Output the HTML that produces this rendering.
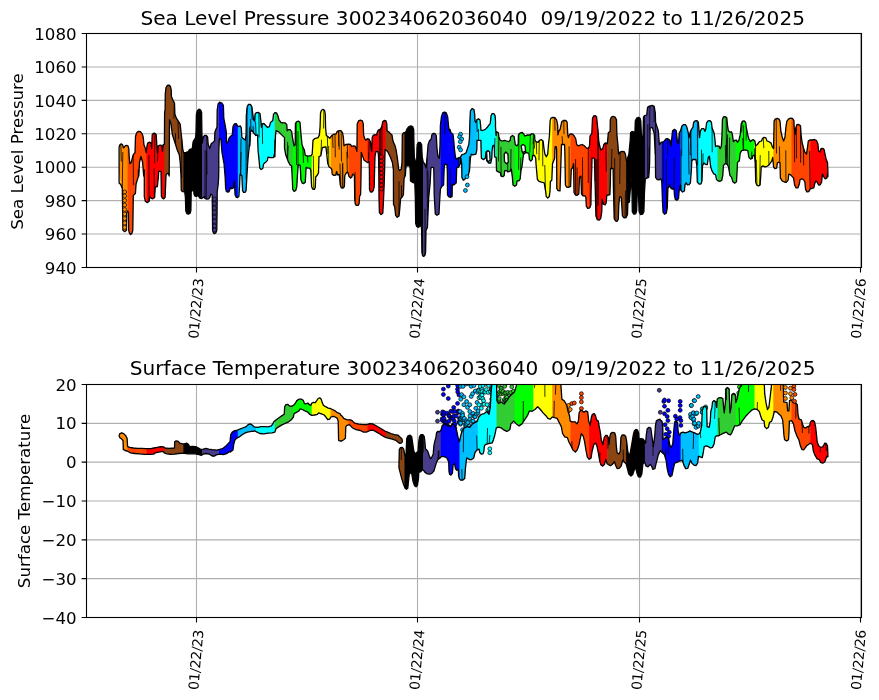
<!DOCTYPE html>
<html lang="en"><head><meta charset="utf-8"><title>Sea Level Pressure and Surface Temperature 300234062036040</title>
<style>html,body{margin:0;padding:0;background:#fff;}svg{display:block;}text{font-family:"DejaVu Sans", "Liberation Sans", sans-serif;fill:#000;white-space:pre;}</style>
</head><body>
<svg width="879" height="700" viewBox="0 0 879 700">
<rect width="879" height="700" fill="#fff"/>
<clipPath id="c1"><rect x="86.5" y="33.5" width="775.0" height="234.0"/></clipPath>
<path d="M196.5 33.5V267.5M417.5 33.5V267.5M639.5 33.5V267.5M860.5 33.5V267.5M86.5 66.92857142857143H861.5M86.5 100.35714285714286H861.5M86.5 133.78571428571428H861.5M86.5 167.21428571428572H861.5M86.5 200.64285714285717H861.5M86.5 234.07142857142858H861.5" stroke="#b0b0b0" stroke-width="1.1" fill="none"/>
<g clip-path="url(#c1)"><g stroke="#000" stroke-width="0.7"><circle cx="460.6" cy="134.2" r="1.95" fill="#00bfff"/><circle cx="459.5" cy="136.9" r="1.95" fill="#00bfff"/><circle cx="461.7" cy="139.0" r="1.95" fill="#00bfff"/><circle cx="460.3" cy="141.7" r="1.95" fill="#00bfff"/><circle cx="459.2" cy="147.2" r="1.95" fill="#00bfff"/><circle cx="460.6" cy="149.9" r="1.95" fill="#00bfff"/></g><polygon points="119.1,176.0 119.9,144.7 121.2,143.9 122.6,144.7 123.4,147.9 124.3,147.2 125.4,145.6 126.7,145.3 128.1,146.1 128.1,212.0 127.6,211.1 126.7,212.5 126.5,230.3 124.7,231.7 122.9,230.3 122.6,211.1 122.3,188.5 120.7,184.4 119.1,170.0" fill="#ff8c00"/>
<polygon points="127.6,145.8 128.1,146.1 128.8,148.6 129.2,156.8 129.9,163.7 131.3,162.3 132.6,156.8 133.6,154.1 135.0,152.7 135.5,136.2 136.7,132.8 138.5,131.3 140.4,131.6 142.2,133.8 143.3,137.6 143.9,144.5 145.4,148.6 146.2,152.7 146.8,147.5 146.8,202.3 145.4,201.3 144.3,196.7 144.3,170.0 143.7,176.0 142.6,162.3 140.9,156.5 139.5,162.3 138.8,176.0 138.5,170.0 138.3,176.9 137.4,179.6 136.1,183.7 135.4,193.6 133.3,195.4 132.8,230.3 131.9,233.4 130.6,234.5 129.5,233.4 128.7,230.3 128.4,212.5 127.6,211.1 127.6,211.1" fill="#ff4500"/>
<polygon points="146.3,151.7 147.0,145.8 147.7,143.1 149.5,142.1 151.1,143.1 151.7,148.6 152.2,134.9 153.2,133.5 154.8,133.2 156.2,134.6 156.8,144.5 157.5,152.7 158.3,145.8 160.1,145.0 161.8,145.6 162.5,151.3 163.2,144.7 164.4,144.2 164.6,112.9 165.0,110.3 165.0,197.6 163.8,198.8 162.4,198.1 161.4,196.1 161.0,171.4 158.7,171.4 158.3,178.2 157.3,186.7 155.3,187.1 154.6,197.4 152.8,198.8 151.1,198.1 149.8,196.7 149.1,201.3 147.3,202.6 146.3,201.9" fill="#ff0000"/>
<polygon points="164.5,131.6 164.6,112.9 165.1,109.5 165.3,93.7 166.0,87.5 167.3,85.5 169.0,85.1 170.3,86.2 171.2,89.6 171.4,96.5 173.1,100.6 174.5,103.0 174.9,114.3 176.5,118.4 180.2,124.2 181.3,134.9 181.9,140.3 182.7,148.6 183.5,152.7 183.8,152.6 183.8,191.8 182.7,191.7 181.3,190.6 181.0,178.2 181.0,176.0 180.2,162.3 179.3,154.7 177.2,149.9 174.2,140.3 172.4,134.9 171.0,123.9 169.5,119.8 169.2,176.0 168.4,173.4 166.8,173.8 166.0,175.5 165.1,197.4 164.5,198.1" fill="#8b4513"/>
<polygon points="183.3,151.5 183.5,152.7 186.1,152.3 188.4,151.6 189.3,149.7 192.3,148.6 193.1,141.7 193.9,140.3 195.6,137.6 196.0,132.1 196.4,114.3 197.2,110.9 198.9,109.2 200.5,109.9 201.6,112.2 201.9,132.1 202.2,143.1 202.6,140.9 202.6,197.9 201.6,198.5 199.8,198.1 198.9,196.7 197.8,195.4 196.7,196.3 195.3,196.3 194.1,194.7 193.7,190.6 192.3,190.6 191.2,191.9 190.9,210.5 190.1,213.2 188.4,214.2 186.8,213.6 185.8,211.1 185.4,197.4 184.7,191.9 183.3,191.7" fill="#000000"/>
<polygon points="202.1,139.0 202.2,143.1 203.3,136.9 204.6,135.3 206.3,135.3 207.6,136.9 208.2,144.5 209.8,148.6 211.2,143.8 212.9,142.4 214.5,141.0 214.9,132.1 215.9,129.4 217.0,127.3 217.2,110.2 218.1,104.0 219.5,102.4 219.5,139.0 219.3,139.0 218.8,152.2 218.8,170.0 218.6,178.2 218.1,185.1 217.2,191.9 217.1,211.1 216.8,230.3 215.9,232.8 214.6,233.6 213.5,233.1 212.6,230.3 212.4,211.1 212.2,195.4 210.8,194.0 209.8,197.4 208.7,198.8 206.7,199.2 205.0,198.5 204.4,196.7 203.3,197.4 202.1,198.2" fill="#483d8b"/>
<polygon points="219.0,103.0 219.7,102.2 221.8,103.0 223.4,105.4 223.8,118.4 225.2,125.3 226.3,132.1 226.6,143.1 227.9,142.4 229.0,138.3 230.0,136.9 230.7,136.2 232.3,134.9 233.0,126.6 234.4,123.9 236.2,123.6 237.6,125.9 238.3,126.5 238.3,196.9 237.6,197.6 236.2,197.3 235.1,194.9 234.4,181.1 233.4,188.0 231.7,188.7 230.4,187.3 230.0,189.2 229.0,191.7 227.7,192.2 226.3,191.3 225.6,187.8 225.2,178.0 224.1,164.2 222.0,152.6 220.9,139.0 219.3,139.0 219.0,145.8" fill="#0000ff"/>
<polygon points="237.8,126.1 238.5,126.6 240.3,125.9 241.3,128.0 241.9,137.6 244.0,139.0 245.4,140.3 246.1,134.9 246.3,115.7 247.2,106.7 248.5,104.4 250.4,104.4 251.8,106.7 252.6,112.9 253.6,119.8 254.6,121.1 255.0,114.3 256.3,112.6 256.5,112.6 256.5,135.3 255.9,135.5 253.6,132.8 251.8,130.1 250.4,132.1 249.9,145.8 249.9,140.0 249.1,148.2 248.1,157.8 247.4,167.4 246.7,179.8 246.1,190.7 245.0,192.4 243.6,192.4 242.6,190.7 241.9,175.7 240.0,174.3 239.6,185.3 238.9,196.2 237.8,197.4" fill="#00bfff"/>
<polygon points="256.0,113.1 256.3,112.6 258.4,112.4 260.0,113.6 260.9,121.1 261.4,127.3 262.2,123.9 263.9,123.5 265.5,125.3 267.3,127.3 269.4,126.6 270.5,122.5 272.8,120.5 273.5,114.3 274.9,112.6 275.2,112.7 275.2,144.3 274.9,156.8 274.9,140.0 274.6,153.7 273.5,157.6 270.1,157.6 268.0,157.1 267.3,160.6 265.3,162.6 263.6,164.0 262.8,168.5 261.1,169.5 259.8,168.1 259.1,160.6 258.1,151.0 257.7,140.0 257.7,134.9 256.0,135.5" fill="#00ffff"/>
<polygon points="274.7,112.8 274.9,112.6 276.5,112.9 277.9,115.7 279.0,119.8 281.0,122.5 283.1,122.8 285.1,122.8 286.8,124.6 287.2,130.7 288.6,129.6 290.2,129.6 291.6,131.4 292.7,139.0 293.4,142.6 293.4,190.5 292.7,189.4 292.4,181.1 291.6,166.1 289.9,164.7 287.9,160.6 285.8,155.1 284.5,148.2 284.5,140.0 284.5,137.6 281.7,134.9 279.0,132.1 276.2,130.7 275.5,134.9 274.9,156.8 274.9,140.0 274.7,145.5" fill="#32cd32"/>
<polygon points="292.9,140.1 294.1,145.8 295.2,144.5 295.4,123.9 296.5,121.8 298.4,121.1 300.0,122.2 300.9,133.5 302.0,144.5 303.0,147.2 304.3,149.9 305.3,155.4 307.8,156.1 311.2,155.7 312.2,154.1 312.2,153.4 312.2,188.1 311.6,186.6 310.8,170.2 309.8,168.1 307.8,168.1 306.1,167.4 305.3,182.2 303.7,183.6 302.0,182.8 300.9,179.8 300.2,165.4 298.2,164.7 297.5,174.3 296.8,186.6 295.7,190.5 294.1,191.4 292.9,189.7" fill="#00ff00"/>
<polygon points="311.7,154.8 312.2,154.1 313.0,140.3 314.6,138.7 318.1,137.6 319.4,134.9 320.1,126.6 320.5,112.9 321.5,110.2 323.1,109.3 324.6,110.4 325.3,114.3 325.6,128.0 326.3,135.5 328.3,136.9 329.7,138.3 331.0,136.6 331.0,168.3 330.8,168.1 329.0,166.7 327.7,163.3 326.7,153.7 325.9,146.9 322.6,147.5 322.2,148.2 320.8,155.8 319.0,156.5 318.5,172.9 317.4,175.0 315.7,177.0 315.3,187.3 314.4,189.4 312.6,189.1 311.7,186.9" fill="#ffff00"/>
<polygon points="330.5,137.3 331.8,135.5 333.8,134.2 335.9,134.2 337.3,131.4 339.3,130.5 340.0,130.7 341.0,130.7 342.6,132.8 343.4,137.6 344.0,145.8 345.8,144.5 348.5,144.2 349.1,144.3 349.1,176.4 348.9,176.2 347.8,172.1 346.5,172.7 344.8,175.5 344.4,186.5 343.0,188.2 341.2,187.8 340.3,185.1 339.3,174.3 337.7,175.0 336.6,171.5 335.9,175.0 333.8,175.4 332.2,174.3 331.8,169.5 330.8,168.1 330.5,167.9" fill="#ff8c00"/>
<polygon points="348.6,144.2 350.6,144.5 351.7,146.5 353.3,145.8 355.0,146.1 356.1,148.6 356.9,151.3 357.2,123.9 358.5,120.9 360.4,120.2 362.4,120.9 363.3,123.9 363.6,134.9 364.6,138.3 365.9,140.3 367.3,138.7 367.9,138.9 367.9,162.4 367.4,162.6 363.9,159.9 361.3,152.4 361.1,170.0 361.0,178.2 360.6,194.7 359.6,196.1 359.1,203.6 358.1,205.4 356.3,205.4 355.2,203.6 354.7,197.4 354.4,175.5 352.6,174.1 351.9,176.9 350.6,178.0 348.9,176.2 348.6,175.1" fill="#ff4500"/>
<polygon points="367.4,138.7 369.1,139.2 370.5,141.7 371.1,148.6 371.8,151.3 372.2,137.6 373.2,135.3 375.0,134.6 376.6,134.9 377.3,132.1 378.3,130.1 380.5,129.1 381.8,126.6 382.7,121.8 384.2,120.5 386.0,120.9 386.1,121.4 386.1,150.2 385.1,149.4 384.6,170.0 384.2,183.7 383.5,200.2 382.8,213.2 381.0,214.6 379.4,212.5 379.0,197.4 378.8,170.0 378.5,156.3 378.0,151.6 375.9,151.6 375.0,156.3 374.6,170.0 374.2,186.5 373.3,190.6 371.7,192.2 370.3,191.9 369.5,189.2 369.4,170.0 369.1,161.8 367.4,162.6 367.4,162.6" fill="#ff0000"/>
<polygon points="385.6,120.8 386.0,120.9 386.8,123.9 387.1,130.7 388.7,131.8 390.3,133.5 392.0,134.9 392.8,140.3 393.8,143.1 395.1,145.8 396.1,149.9 397.2,156.8 397.9,162.3 398.6,169.1 399.7,170.5 401.3,169.1 402.0,162.3 402.3,134.9 403.4,132.8 404.9,132.6 404.9,176.6 404.1,178.2 403.4,194.7 402.0,197.4 400.6,198.8 399.7,209.8 399.0,215.9 397.2,217.3 395.6,215.3 394.7,207.0 393.5,204.3 393.4,170.0 392.4,162.5 390.3,157.0 387.6,151.5 385.6,149.8" fill="#8b4513"/>
<polygon points="404.4,132.6 405.2,132.5 406.1,131.4 407.1,128.7 408.9,126.6 410.9,125.9 412.7,126.6 413.7,129.4 413.9,141.7 414.3,156.8 415.7,162.3 416.7,160.9 417.2,144.5 418.5,142.4 420.2,142.4 421.6,144.5 422.2,156.8 423.3,162.3 423.7,162.7 423.7,256.4 422.6,255.7 421.9,252.3 421.6,229.0 420.5,222.1 419.8,226.2 418.5,227.3 416.7,226.5 415.7,223.5 415.3,197.4 414.8,183.0 412.3,182.3 410.5,181.0 410.2,170.0 409.8,165.9 406.1,165.9 405.7,170.0 405.4,175.5 404.4,177.6" fill="#000000"/>
<polygon points="423.2,161.8 423.3,162.3 424.6,163.7 426.0,167.8 427.1,156.8 428.1,144.5 429.4,141.0 431.2,139.0 431.8,134.9 433.1,133.5 434.9,133.5 436.3,135.5 437.0,148.6 438.1,156.8 439.4,158.2 440.0,145.8 440.4,125.3 441.2,118.2 441.2,187.6 440.4,189.2 439.7,200.2 439.0,213.9 437.0,215.3 435.3,213.9 434.2,194.7 433.8,170.0 433.5,167.3 431.2,167.3 430.8,170.0 430.1,183.7 428.7,197.4 428.1,211.1 427.4,227.6 426.0,230.3 425.6,252.3 424.9,255.3 423.7,256.4 423.2,256.1" fill="#483d8b"/>
<polygon points="440.7,122.5 441.4,117.0 442.7,112.9 444.5,112.0 446.3,112.9 447.7,117.0 448.6,126.6 449.3,130.7 450.0,129.4 451.0,132.8 453.0,134.2 453.7,140.3 454.4,148.6 455.4,156.8 456.5,159.5 457.8,158.2 459.2,157.5 460.0,158.5 460.0,164.3 458.5,167.1 456.7,167.8 456.2,182.9 453.7,185.0 452.3,184.3 452.1,196.6 450.3,197.3 450.0,197.0 448.6,196.7 447.5,194.7 447.3,170.0 447.0,164.5 444.4,164.5 444.1,170.0 443.6,185.1 441.8,186.5 440.7,188.6" fill="#0000ff"/>
<polygon points="459.5,157.9 460.3,158.9 460.6,156.8 461.9,154.7 464.0,154.1 466.1,152.7 467.4,148.6 468.8,144.5 469.5,137.6 469.9,121.1 470.4,110.9 472.2,108.5 474.0,109.5 474.7,114.3 475.0,121.1 475.9,122.5 476.8,119.8 478.2,118.8 478.2,140.4 477.0,140.4 476.8,150.0 475.9,154.1 472.9,154.8 471.3,154.1 470.4,158.2 469.5,170.6 468.1,176.1 466.1,177.4 464.7,179.5 463.3,180.2 461.9,177.4 461.7,163.7 460.8,158.2 460.3,163.7 459.5,165.2" fill="#00bfff"/>
<polygon points="477.7,119.2 478.4,118.7 480.0,120.0 480.6,125.3 480.9,130.1 482.5,130.5 485.3,129.4 487.3,127.3 488.7,125.3 490.1,123.9 490.7,119.8 491.0,115.7 492.1,113.6 493.8,113.6 495.1,115.7 495.5,121.1 495.5,126.6 495.7,129.4 495.8,131.4 496.0,134.9 496.1,135.5 496.2,132.8 496.9,131.8 497.0,131.9 497.0,170.9 496.5,170.6 496.2,157.5 494.6,156.9 494.2,145.2 492.8,145.9 492.1,150.0 491.8,158.2 490.7,163.0 488.7,163.0 487.0,161.0 486.6,151.4 485.9,152.7 485.3,158.2 483.6,159.6 481.4,158.2 481.1,150.0 480.9,140.4 477.7,140.4" fill="#00ffff"/>
<polygon points="496.5,132.5 496.9,131.8 498.3,132.8 499.0,137.6 500.3,140.3 502.4,141.0 504.5,140.3 506.5,141.0 508.6,141.7 510.2,140.3 510.6,136.9 512.4,135.5 514.1,136.5 514.7,140.3 515.1,144.1 515.1,186.1 514.7,186.3 513.0,185.0 512.4,177.4 511.3,169.2 509.9,171.3 507.9,171.9 506.5,170.6 504.7,170.6 504.2,175.4 502.8,176.7 501.0,176.1 500.3,172.6 498.3,171.9 496.5,170.6 496.5,168.1" fill="#32cd32"/>
<polygon points="514.6,139.7 514.7,140.3 515.2,144.5 516.8,145.8 518.2,144.5 518.4,134.9 520.2,132.8 522.3,132.5 523.9,134.2 524.8,136.2 527.8,134.9 529.8,135.1 531.6,133.8 533.3,133.8 533.9,134.6 533.9,155.5 532.6,155.5 532.2,159.6 530.8,161.0 529.4,159.6 528.9,153.4 526.4,152.7 525.7,152.1 523.9,151.4 523.0,158.2 522.0,166.5 520.9,170.6 520.2,178.8 518.9,180.9 517.1,180.9 516.5,185.0 514.7,186.3 514.6,186.3" fill="#00ff00"/>
<polygon points="533.4,133.9 534.6,135.5 534.9,140.3 536.0,141.7 538.1,142.4 539.4,140.3 541.5,139.7 543.1,141.0 544.0,148.6 544.9,154.1 546.3,156.8 547.7,154.1 548.6,143.1 549.4,136.2 550.1,121.1 550.8,118.4 552.7,117.3 552.7,163.2 552.5,163.7 551.8,180.2 550.4,181.5 550.0,191.1 549.3,196.6 547.7,198.0 546.3,196.6 545.6,191.1 544.2,182.9 541.5,182.2 539.0,181.3 537.4,179.5 536.0,163.7 535.7,158.2 534.6,155.5 533.4,155.5" fill="#ffff00"/>
<polygon points="552.2,117.6 552.7,117.3 554.9,117.7 556.6,119.8 557.7,125.3 557.9,134.9 559.0,130.7 560.0,129.6 561.7,121.8 563.4,120.5 565.8,120.5 567.1,122.2 567.8,134.9 568.5,137.6 569.2,134.9 570.6,133.8 570.9,133.8 570.9,179.3 570.6,186.3 568.5,187.3 566.5,187.0 565.4,185.0 564.8,150.0 564.5,144.5 561.5,144.5 560.0,190.9 557.9,190.5 556.8,188.4 556.6,150.0 556.3,146.6 555.2,146.6 554.9,150.0 554.7,158.2 553.6,161.0 552.5,163.7 552.2,170.4" fill="#ff8c00"/>
<polygon points="570.4,133.9 570.6,133.8 572.6,134.2 574.4,136.2 575.8,139.0 576.7,144.5 578.1,145.8 580.2,145.1 582.2,144.5 584.3,145.8 586.3,147.9 588.4,148.6 589.5,145.8 589.6,143.5 589.6,207.9 587.7,208.3 586.3,206.2 585.9,197.3 585.0,195.9 582.9,195.9 581.5,193.9 580.9,176.1 579.5,177.4 578.8,193.9 577.2,195.3 575.4,195.0 574.0,192.5 573.6,163.7 572.6,167.8 571.3,169.2 570.6,186.3 570.4,186.4" fill="#ff4500"/>
<polygon points="589.1,146.7 589.5,145.8 590.0,136.2 591.8,133.5 592.5,118.4 593.6,115.9 595.3,115.7 596.6,117.0 597.3,123.9 598.0,130.7 598.7,140.3 599.4,144.5 600.7,149.9 602.8,148.6 603.8,144.5 605.5,142.8 607.3,143.8 607.8,138.4 607.8,195.1 606.8,195.3 606.2,202.8 605.1,204.9 603.5,204.2 602.1,199.4 601.8,211.7 600.7,218.6 599.1,220.2 597.3,219.7 595.9,215.8 595.3,191.1 594.7,167.8 594.4,158.2 592.0,158.2 591.8,167.8 591.1,191.1 590.9,204.9 589.8,207.9 589.1,208.0" fill="#ff0000"/>
<polygon points="607.3,143.8 607.3,143.8 607.9,137.6 608.3,132.8 610.1,131.4 610.3,119.8 611.4,117.0 613.1,116.3 615.1,117.0 616.5,119.8 616.9,134.9 617.9,144.5 618.6,154.1 619.9,152.0 622.0,151.3 624.1,151.6 625.4,154.1 626.5,160.9 626.6,160.8 626.6,216.4 626.1,217.5 624.1,217.9 622.4,215.8 621.3,197.3 619.7,196.6 618.8,204.9 618.3,219.3 617.2,221.3 615.6,221.0 614.2,218.6 613.5,191.1 613.1,168.5 610.6,168.5 610.3,184.3 609.9,194.6 608.3,195.0 607.3,195.2" fill="#8b4513"/>
<polygon points="626.1,158.1 626.5,160.9 627.5,158.2 628.9,154.1 630.2,140.3 630.6,132.8 632.0,131.4 633.7,131.8 634.8,134.9 635.3,121.1 636.7,118.1 638.5,117.3 640.1,118.4 640.8,121.1 641.6,140.3 643.0,134.9 643.5,117.0 644.6,115.7 645.4,115.4 645.4,178.8 645.3,178.8 644.4,193.9 643.9,211.7 642.6,214.2 640.5,214.5 639.1,211.7 638.5,195.3 637.2,193.9 636.7,210.3 635.7,213.8 633.7,214.2 632.3,211.7 632.0,191.1 630.9,176.1 630.2,191.1 629.3,202.1 627.9,202.8 627.5,214.5 626.1,217.5 626.1,217.5" fill="#000000"/>
<polygon points="644.9,115.6 646.7,115.0 647.6,107.4 649.4,106.1 652.2,105.4 654.2,106.3 655.3,112.9 655.6,122.5 657.0,126.6 658.3,130.7 659.4,144.5 661.1,142.4 662.3,142.1 662.3,198.0 661.8,181.5 660.8,178.8 659.0,179.9 657.0,179.5 655.6,177.4 655.3,150.0 655.1,150.0 654.2,133.5 652.2,127.4 650.1,128.1 649.8,150.0 649.6,163.7 648.7,177.4 646.7,178.1 645.3,178.8 644.9,186.0" fill="#483d8b"/>
<polygon points="661.8,142.2 663.8,141.7 665.9,139.0 667.9,138.7 670.0,140.3 671.0,145.8 672.1,134.9 672.6,130.7 674.4,129.4 676.2,130.5 676.7,134.9 677.6,143.1 678.5,143.8 679.2,132.8 680.6,130.7 681.1,128.9 681.1,190.6 680.8,190.3 680.6,184.9 679.2,190.3 678.5,198.6 677.1,200.2 675.4,199.7 674.5,195.8 674.0,188.3 672.3,189.2 670.3,187.6 670.0,185.0 669.3,185.7 667.9,188.4 667.3,207.6 666.3,213.1 664.5,214.2 663.1,212.4 662.5,202.1 661.8,183.0" fill="#0000ff"/>
<polygon points="680.6,130.6 681.9,125.9 683.6,124.6 685.4,124.6 686.7,126.6 687.4,129.4 688.1,132.1 689.1,137.6 690.2,132.1 691.5,129.4 692.9,127.3 693.6,122.5 695.0,120.9 697.0,120.6 698.4,122.2 698.9,129.4 699.3,134.2 699.3,184.1 699.1,184.2 697.3,182.1 696.8,165.7 695.9,159.5 692.9,159.5 691.8,160.9 691.3,171.1 690.4,182.8 689.1,184.6 687.4,184.9 686.1,182.8 685.0,184.9 684.4,191.0 682.6,192.0 680.8,190.3 680.6,185.4" fill="#00bfff"/>
<polygon points="698.8,127.1 698.9,129.4 699.5,137.6 700.5,130.7 701.8,128.7 703.9,128.7 705.0,131.4 705.9,128.7 706.6,122.8 708.0,120.9 710.1,120.7 711.4,122.2 712.1,128.0 713.2,130.7 714.2,133.5 714.9,139.0 715.5,146.5 716.9,145.8 718.0,146.0 718.0,180.9 717.6,180.7 716.5,179.4 715.5,174.6 713.8,173.9 712.1,171.1 710.7,167.0 709.4,156.1 708.3,157.4 707.3,164.6 705.3,164.3 703.9,162.9 702.5,165.7 702.0,180.7 701.1,183.8 699.1,184.2 698.8,183.8" fill="#00ffff"/>
<polygon points="717.5,145.9 719.0,146.1 720.3,148.6 721.4,145.8 722.0,134.9 722.4,119.8 723.4,117.0 725.1,116.6 726.8,117.7 727.5,125.3 728.3,130.7 729.9,132.1 731.6,131.8 732.4,134.9 733.4,141.7 734.7,140.3 736.2,140.1 736.2,182.1 734.7,183.2 732.7,181.4 731.6,177.3 729.9,175.3 728.6,167.0 727.2,164.3 725.1,163.6 723.4,165.7 722.8,175.3 721.7,180.5 719.7,181.4 717.6,180.7 717.5,180.7" fill="#32cd32"/>
<polygon points="735.7,140.2 736.5,140.1 737.5,142.4 738.9,140.3 740.2,134.9 741.2,123.9 742.6,121.1 744.3,120.9 745.7,122.5 746.4,128.0 747.8,134.9 748.9,139.0 750.5,141.7 751.6,140.3 753.3,139.7 754.9,141.0 755.0,141.6 755.0,159.4 754.6,155.4 753.0,155.4 752.2,158.5 750.5,159.1 748.9,157.4 747.8,150.6 745.0,149.9 741.6,150.6 740.2,153.3 739.3,160.9 737.5,162.2 737.1,171.1 736.5,181.8 735.7,182.5" fill="#00ff00"/>
<polygon points="754.5,140.7 754.9,141.0 755.7,145.8 757.4,144.5 759.4,141.7 761.5,141.0 762.6,138.3 764.2,137.3 765.9,137.9 767.0,141.0 769.0,141.7 771.1,143.1 772.5,147.2 773.6,148.6 773.8,137.4 773.8,167.3 773.6,167.0 772.7,157.4 771.8,160.9 770.4,162.9 769.0,165.0 767.0,166.3 764.9,166.8 762.9,165.9 761.2,167.0 760.8,175.3 760.1,184.9 758.5,186.0 756.7,184.9 755.7,182.1 755.3,162.9 754.6,155.4 754.5,155.4" fill="#ffff00"/>
<polygon points="773.3,148.2 773.6,148.6 774.1,121.1 775.2,119.1 777.3,118.4 779.0,119.1 780.0,121.1 780.9,131.5 782.2,137.0 783.6,141.1 785.0,137.0 785.9,127.4 786.8,121.3 788.4,119.2 790.5,118.2 792.0,118.4 792.0,176.3 791.8,176.1 790.5,174.7 788.8,174.1 788.1,180.2 786.3,182.3 784.3,182.0 782.2,180.9 780.4,178.2 780.0,162.9 778.6,162.2 777.4,162.9 776.6,168.1 774.9,168.7 773.6,167.0 773.3,163.8" fill="#ff8c00"/>
<polygon points="791.5,118.4 792.5,118.5 793.9,120.6 794.2,127.4 795.3,134.3 795.9,127.4 796.9,124.7 798.7,124.4 800.5,125.8 801.0,134.3 802.1,142.5 803.5,148.0 804.9,152.1 806.5,154.2 807.6,146.6 808.3,141.1 810.3,139.8 810.7,139.8 810.7,188.9 810.1,189.1 808.7,191.6 806.9,191.9 805.5,189.1 804.9,182.3 803.5,179.5 801.8,178.9 800.1,179.5 799.4,183.7 798.0,187.8 795.9,187.8 794.6,185.0 793.6,178.2 791.8,176.1 791.5,175.7" fill="#ff4500"/>
<polygon points="810.2,139.8 810.3,139.8 812.4,140.0 814.5,139.5 816.5,140.5 817.9,143.9 818.6,150.7 819.9,152.1 821.0,148.7 822.7,148.3 824.1,149.4 825.2,154.9 826.1,159.0 827.5,162.4 827.9,171.3 827.9,171.3 827.6,174.1 826.8,178.2 825.2,178.9 823.8,176.8 822.4,174.1 821.6,182.3 820.2,184.8 818.6,185.0 817.2,182.3 815.8,180.9 814.7,183.7 813.8,187.8 811.7,188.5 810.2,189.1" fill="#ff0000"/>
<polygon points="486.4,152.0 488.0,150.6 489.6,152.0 490.1,160.2 488.3,161.6 486.6,160.2" fill="#fff" stroke="#000" stroke-width="1.3" stroke-linejoin="round"/>
<polygon points="504.2,154.1 505.8,152.0 507.9,154.1 508.3,162.3 506.5,163.7 504.5,161.6" fill="#fff" stroke="#000" stroke-width="1.3" stroke-linejoin="round"/>
<polygon points="521.2,145.8 523.0,144.5 525.0,145.8 525.7,152.7 523.7,154.1 522.0,151.3" fill="#fff" stroke="#000" stroke-width="1.3" stroke-linejoin="round"/>
<polygon points="119.1,176.0 119.1,147.2 119.9,144.7 121.2,143.9 122.6,144.7 123.4,147.9 124.3,147.2 125.4,145.6 126.7,145.3 128.1,146.1 128.8,148.6 129.2,156.8 129.9,163.7 131.3,162.3 132.6,156.8 133.6,154.1 135.0,152.7 135.5,136.2 136.7,132.8 138.5,131.3 140.4,131.6 142.2,133.8 143.3,137.6 143.9,144.5 145.4,148.6 146.2,152.7 147.0,145.8 147.7,143.1 149.5,142.1 151.1,143.1 151.7,148.6 152.2,134.9 153.2,133.5 154.8,133.2 156.2,134.6 156.8,144.5 157.5,152.7 158.3,145.8 160.1,145.0 161.8,145.6 162.5,151.3 163.2,144.7 164.4,144.2 164.6,112.9 165.1,109.5 165.3,93.7 166.0,87.5 167.3,85.5 169.0,85.1 170.3,86.2 171.2,89.6 171.4,96.5 173.1,100.6 174.5,103.0 174.9,114.3 176.5,118.4 180.2,124.2 181.3,134.9 181.9,140.3 182.7,148.6 183.5,152.7 186.1,152.3 188.4,151.6 189.3,149.7 192.3,148.6 193.1,141.7 193.9,140.3 195.6,137.6 196.0,132.1 196.4,114.3 197.2,110.9 198.9,109.2 200.5,109.9 201.6,112.2 201.9,132.1 202.2,143.1 203.3,136.9 204.6,135.3 206.3,135.3 207.6,136.9 208.2,144.5 209.8,148.6 211.2,143.8 212.9,142.4 214.5,141.0 214.9,132.1 215.9,129.4 217.0,127.3 217.2,110.2 218.1,104.0 219.7,102.2 221.8,103.0 223.4,105.4 223.8,118.4 225.2,125.3 226.3,132.1 226.6,143.1 227.9,142.4 229.0,138.3 230.0,136.9 230.7,136.2 232.3,134.9 233.0,126.6 234.4,123.9 236.2,123.6 237.6,125.9 238.5,126.6 240.3,125.9 241.3,128.0 241.9,137.6 244.0,139.0 245.4,140.3 246.1,134.9 246.3,115.7 247.2,106.7 248.5,104.4 250.4,104.4 251.8,106.7 252.6,112.9 253.6,119.8 254.6,121.1 255.0,114.3 256.3,112.6 258.4,112.4 260.0,113.6 260.9,121.1 261.4,127.3 262.2,123.9 263.9,123.5 265.5,125.3 267.3,127.3 269.4,126.6 270.5,122.5 272.8,120.5 273.5,114.3 274.9,112.6 276.5,112.9 277.9,115.7 279.0,119.8 281.0,122.5 283.1,122.8 285.1,122.8 286.8,124.6 287.2,130.7 288.6,129.6 290.2,129.6 291.6,131.4 292.7,139.0 294.1,145.8 295.2,144.5 295.4,123.9 296.5,121.8 298.4,121.1 300.0,122.2 300.9,133.5 302.0,144.5 303.0,147.2 304.3,149.9 305.3,155.4 307.8,156.1 311.2,155.7 312.2,154.1 313.0,140.3 314.6,138.7 318.1,137.6 319.4,134.9 320.1,126.6 320.5,112.9 321.5,110.2 323.1,109.3 324.6,110.4 325.3,114.3 325.6,128.0 326.3,135.5 328.3,136.9 329.7,138.3 331.8,135.5 333.8,134.2 335.9,134.2 337.3,131.4 339.3,130.5 340.0,130.7 341.0,130.7 342.6,132.8 343.4,137.6 344.0,145.8 345.8,144.5 348.5,144.2 350.6,144.5 351.7,146.5 353.3,145.8 355.0,146.1 356.1,148.6 356.9,151.3 357.2,123.9 358.5,120.9 360.4,120.2 362.4,120.9 363.3,123.9 363.6,134.9 364.6,138.3 365.9,140.3 367.3,138.7 369.1,139.2 370.5,141.7 371.1,148.6 371.8,151.3 372.2,137.6 373.2,135.3 375.0,134.6 376.6,134.9 377.3,132.1 378.3,130.1 380.5,129.1 381.8,126.6 382.7,121.8 384.2,120.5 386.0,120.9 386.8,123.9 387.1,130.7 388.7,131.8 390.3,133.5 392.0,134.9 392.8,140.3 393.8,143.1 395.1,145.8 396.1,149.9 397.2,156.8 397.9,162.3 398.6,169.1 399.7,170.5 401.3,169.1 402.0,162.3 402.3,134.9 403.4,132.8 405.2,132.5 406.1,131.4 407.1,128.7 408.9,126.6 410.9,125.9 412.7,126.6 413.7,129.4 413.9,141.7 414.3,156.8 415.7,162.3 416.7,160.9 417.2,144.5 418.5,142.4 420.2,142.4 421.6,144.5 422.2,156.8 423.3,162.3 424.6,163.7 426.0,167.8 427.1,156.8 428.1,144.5 429.4,141.0 431.2,139.0 431.8,134.9 433.1,133.5 434.9,133.5 436.3,135.5 437.0,148.6 438.1,156.8 439.4,158.2 440.0,145.8 440.4,125.3 441.4,117.0 442.7,112.9 444.5,112.0 446.3,112.9 447.7,117.0 448.6,126.6 449.3,130.7 450.0,129.4 451.0,132.8 453.0,134.2 453.7,140.3 454.4,148.6 455.4,156.8 456.5,159.5 457.8,158.2 459.2,157.5 460.3,158.9 460.6,156.8 461.9,154.7 464.0,154.1 466.1,152.7 467.4,148.6 468.8,144.5 469.5,137.6 469.9,121.1 470.4,110.9 472.2,108.5 474.0,109.5 474.7,114.3 475.0,121.1 475.9,122.5 476.8,119.8 478.4,118.7 480.0,120.0 480.6,125.3 480.9,130.1 482.5,130.5 485.3,129.4 487.3,127.3 488.7,125.3 490.1,123.9 490.7,119.8 491.0,115.7 492.1,113.6 493.8,113.6 495.1,115.7 495.5,121.1 495.5,126.6 495.7,129.4 495.8,131.4 496.0,134.9 496.1,135.5 496.2,132.8 496.9,131.8 498.3,132.8 499.0,137.6 500.3,140.3 502.4,141.0 504.5,140.3 506.5,141.0 508.6,141.7 510.2,140.3 510.6,136.9 512.4,135.5 514.1,136.5 514.7,140.3 515.2,144.5 516.8,145.8 518.2,144.5 518.4,134.9 520.2,132.8 522.3,132.5 523.9,134.2 524.8,136.2 527.8,134.9 529.8,135.1 531.6,133.8 533.3,133.8 534.6,135.5 534.9,140.3 536.0,141.7 538.1,142.4 539.4,140.3 541.5,139.7 543.1,141.0 544.0,148.6 544.9,154.1 546.3,156.8 547.7,154.1 548.6,143.1 549.4,136.2 550.1,121.1 550.8,118.4 552.7,117.3 554.9,117.7 556.6,119.8 557.7,125.3 557.9,134.9 559.0,130.7 560.0,129.6 561.7,121.8 563.4,120.5 565.8,120.5 567.1,122.2 567.8,134.9 568.5,137.6 569.2,134.9 570.6,133.8 572.6,134.2 574.4,136.2 575.8,139.0 576.7,144.5 578.1,145.8 580.2,145.1 582.2,144.5 584.3,145.8 586.3,147.9 588.4,148.6 589.5,145.8 590.0,136.2 591.8,133.5 592.5,118.4 593.6,115.9 595.3,115.7 596.6,117.0 597.3,123.9 598.0,130.7 598.7,140.3 599.4,144.5 600.7,149.9 602.8,148.6 603.8,144.5 605.5,142.8 607.3,143.8 607.9,137.6 608.3,132.8 610.1,131.4 610.3,119.8 611.4,117.0 613.1,116.3 615.1,117.0 616.5,119.8 616.9,134.9 617.9,144.5 618.6,154.1 619.9,152.0 622.0,151.3 624.1,151.6 625.4,154.1 626.5,160.9 627.5,158.2 628.9,154.1 630.2,140.3 630.6,132.8 632.0,131.4 633.7,131.8 634.8,134.9 635.3,121.1 636.7,118.1 638.5,117.3 640.1,118.4 640.8,121.1 641.6,140.3 643.0,134.9 643.5,117.0 644.6,115.7 646.7,115.0 647.6,107.4 649.4,106.1 652.2,105.4 654.2,106.3 655.3,112.9 655.6,122.5 657.0,126.6 658.3,130.7 659.4,144.5 661.1,142.4 663.8,141.7 665.9,139.0 667.9,138.7 670.0,140.3 671.0,145.8 672.1,134.9 672.6,130.7 674.4,129.4 676.2,130.5 676.7,134.9 677.6,143.1 678.5,143.8 679.2,132.8 680.6,130.7 681.9,125.9 683.6,124.6 685.4,124.6 686.7,126.6 687.4,129.4 688.1,132.1 689.1,137.6 690.2,132.1 691.5,129.4 692.9,127.3 693.6,122.5 695.0,120.9 697.0,120.6 698.4,122.2 698.9,129.4 699.5,137.6 700.5,130.7 701.8,128.7 703.9,128.7 705.0,131.4 705.9,128.7 706.6,122.8 708.0,120.9 710.1,120.7 711.4,122.2 712.1,128.0 713.2,130.7 714.2,133.5 714.9,139.0 715.5,146.5 716.9,145.8 719.0,146.1 720.3,148.6 721.4,145.8 722.0,134.9 722.4,119.8 723.4,117.0 725.1,116.6 726.8,117.7 727.5,125.3 728.3,130.7 729.9,132.1 731.6,131.8 732.4,134.9 733.4,141.7 734.7,140.3 736.5,140.1 737.5,142.4 738.9,140.3 740.2,134.9 741.2,123.9 742.6,121.1 744.3,120.9 745.7,122.5 746.4,128.0 747.8,134.9 748.9,139.0 750.5,141.7 751.6,140.3 753.3,139.7 754.9,141.0 755.7,145.8 757.4,144.5 759.4,141.7 761.5,141.0 762.6,138.3 764.2,137.3 765.9,137.9 767.0,141.0 769.0,141.7 771.1,143.1 772.5,147.2 773.6,148.6 774.1,121.1 775.2,119.1 777.3,118.4 779.0,119.1 780.0,121.1 780.9,131.5 782.2,137.0 783.6,141.1 785.0,137.0 785.9,127.4 786.8,121.3 788.4,119.2 790.5,118.2 792.5,118.5 793.9,120.6 794.2,127.4 795.3,134.3 795.9,127.4 796.9,124.7 798.7,124.4 800.5,125.8 801.0,134.3 802.1,142.5 803.5,148.0 804.9,152.1 806.5,154.2 807.6,146.6 808.3,141.1 810.3,139.8 812.4,140.0 814.5,139.5 816.5,140.5 817.9,143.9 818.6,150.7 819.9,152.1 821.0,148.7 822.7,148.3 824.1,149.4 825.2,154.9 826.1,159.0 827.5,162.4 827.9,171.3 827.9,176.8 827.9,171.3 827.6,174.1 826.8,178.2 825.2,178.9 823.8,176.8 822.4,174.1 821.6,182.3 820.2,184.8 818.6,185.0 817.2,182.3 815.8,180.9 814.7,183.7 813.8,187.8 811.7,188.5 810.1,189.1 808.7,191.6 806.9,191.9 805.5,189.1 804.9,182.3 803.5,179.5 801.8,178.9 800.1,179.5 799.4,183.7 798.0,187.8 795.9,187.8 794.6,185.0 793.6,178.2 791.8,176.1 790.5,174.7 788.8,174.1 788.1,180.2 786.3,182.3 784.3,182.0 782.2,180.9 780.4,178.2 780.0,162.9 778.6,162.2 777.4,162.9 776.6,168.1 774.9,168.7 773.6,167.0 772.7,157.4 771.8,160.9 770.4,162.9 769.0,165.0 767.0,166.3 764.9,166.8 762.9,165.9 761.2,167.0 760.8,175.3 760.1,184.9 758.5,186.0 756.7,184.9 755.7,182.1 755.3,162.9 754.6,155.4 753.0,155.4 752.2,158.5 750.5,159.1 748.9,157.4 747.8,150.6 745.0,149.9 741.6,150.6 740.2,153.3 739.3,160.9 737.5,162.2 737.1,171.1 736.5,181.8 734.7,183.2 732.7,181.4 731.6,177.3 729.9,175.3 728.6,167.0 727.2,164.3 725.1,163.6 723.4,165.7 722.8,175.3 721.7,180.5 719.7,181.4 717.6,180.7 716.5,179.4 715.5,174.6 713.8,173.9 712.1,171.1 710.7,167.0 709.4,156.1 708.3,157.4 707.3,164.6 705.3,164.3 703.9,162.9 702.5,165.7 702.0,180.7 701.1,183.8 699.1,184.2 697.3,182.1 696.8,165.7 695.9,159.5 692.9,159.5 691.8,160.9 691.3,171.1 690.4,182.8 689.1,184.6 687.4,184.9 686.1,182.8 685.0,184.9 684.4,191.0 682.6,192.0 680.8,190.3 680.6,184.9 679.2,190.3 678.5,198.6 677.1,200.2 675.4,199.7 674.5,195.8 674.0,188.3 672.3,189.2 670.3,187.6 670.0,185.0 669.3,185.7 667.9,188.4 667.3,207.6 666.3,213.1 664.5,214.2 663.1,212.4 662.5,202.1 661.8,181.5 660.8,178.8 659.0,179.9 657.0,179.5 655.6,177.4 655.3,150.0 655.1,150.0 654.2,133.5 652.2,127.4 650.1,128.1 649.8,150.0 649.6,163.7 648.7,177.4 646.7,178.1 645.3,178.8 644.4,193.9 643.9,211.7 642.6,214.2 640.5,214.5 639.1,211.7 638.5,195.3 637.2,193.9 636.7,210.3 635.7,213.8 633.7,214.2 632.3,211.7 632.0,191.1 630.9,176.1 630.2,191.1 629.3,202.1 627.9,202.8 627.5,214.5 626.1,217.5 624.1,217.9 622.4,215.8 621.3,197.3 619.7,196.6 618.8,204.9 618.3,219.3 617.2,221.3 615.6,221.0 614.2,218.6 613.5,191.1 613.1,168.5 610.6,168.5 610.3,184.3 609.9,194.6 608.3,195.0 606.8,195.3 606.2,202.8 605.1,204.9 603.5,204.2 602.1,199.4 601.8,211.7 600.7,218.6 599.1,220.2 597.3,219.7 595.9,215.8 595.3,191.1 594.7,167.8 594.4,158.2 592.0,158.2 591.8,167.8 591.1,191.1 590.9,204.9 589.8,207.9 587.7,208.3 586.3,206.2 585.9,197.3 585.0,195.9 582.9,195.9 581.5,193.9 580.9,176.1 579.5,177.4 578.8,193.9 577.2,195.3 575.4,195.0 574.0,192.5 573.6,163.7 572.6,167.8 571.3,169.2 570.6,186.3 568.5,187.3 566.5,187.0 565.4,185.0 564.8,150.0 564.5,144.5 561.5,144.5 560.0,190.9 557.9,190.5 556.8,188.4 556.6,150.0 556.3,146.6 555.2,146.6 554.9,150.0 554.7,158.2 553.6,161.0 552.5,163.7 551.8,180.2 550.4,181.5 550.0,191.1 549.3,196.6 547.7,198.0 546.3,196.6 545.6,191.1 544.2,182.9 541.5,182.2 539.0,181.3 537.4,179.5 536.0,163.7 535.7,158.2 534.6,155.5 532.6,155.5 532.2,159.6 530.8,161.0 529.4,159.6 528.9,153.4 526.4,152.7 525.7,152.1 523.9,151.4 523.0,158.2 522.0,166.5 520.9,170.6 520.2,178.8 518.9,180.9 517.1,180.9 516.5,185.0 514.7,186.3 513.0,185.0 512.4,177.4 511.3,169.2 509.9,171.3 507.9,171.9 506.5,170.6 504.7,170.6 504.2,175.4 502.8,176.7 501.0,176.1 500.3,172.6 498.3,171.9 496.5,170.6 496.2,157.5 494.6,156.9 494.2,145.2 492.8,145.9 492.1,150.0 491.8,158.2 490.7,163.0 488.7,163.0 487.0,161.0 486.6,151.4 485.9,152.7 485.3,158.2 483.6,159.6 481.4,158.2 481.1,150.0 480.9,140.4 477.0,140.4 476.8,150.0 475.9,154.1 472.9,154.8 471.3,154.1 470.4,158.2 469.5,170.6 468.1,176.1 466.1,177.4 464.7,179.5 463.3,180.2 461.9,177.4 461.7,163.7 460.8,158.2 460.3,163.7 458.5,167.1 456.7,167.8 456.2,182.9 453.7,185.0 452.3,184.3 452.1,196.6 450.3,197.3 450.0,197.0 448.6,196.7 447.5,194.7 447.3,170.0 447.0,164.5 444.4,164.5 444.1,170.0 443.6,185.1 441.8,186.5 440.4,189.2 439.7,200.2 439.0,213.9 437.0,215.3 435.3,213.9 434.2,194.7 433.8,170.0 433.5,167.3 431.2,167.3 430.8,170.0 430.1,183.7 428.7,197.4 428.1,211.1 427.4,227.6 426.0,230.3 425.6,252.3 424.9,255.3 423.7,256.4 422.6,255.7 421.9,252.3 421.6,229.0 420.5,222.1 419.8,226.2 418.5,227.3 416.7,226.5 415.7,223.5 415.3,197.4 414.8,183.0 412.3,182.3 410.5,181.0 410.2,170.0 409.8,165.9 406.1,165.9 405.7,170.0 405.4,175.5 404.1,178.2 403.4,194.7 402.0,197.4 400.6,198.8 399.7,209.8 399.0,215.9 397.2,217.3 395.6,215.3 394.7,207.0 393.5,204.3 393.4,170.0 392.4,162.5 390.3,157.0 387.6,151.5 385.1,149.4 384.6,170.0 384.2,183.7 383.5,200.2 382.8,213.2 381.0,214.6 379.4,212.5 379.0,197.4 378.8,170.0 378.5,156.3 378.0,151.6 375.9,151.6 375.0,156.3 374.6,170.0 374.2,186.5 373.3,190.6 371.7,192.2 370.3,191.9 369.5,189.2 369.4,170.0 369.1,161.8 367.4,162.6 363.9,159.9 361.3,152.4 361.1,170.0 361.0,178.2 360.6,194.7 359.6,196.1 359.1,203.6 358.1,205.4 356.3,205.4 355.2,203.6 354.7,197.4 354.4,175.5 352.6,174.1 351.9,176.9 350.6,178.0 348.9,176.2 347.8,172.1 346.5,172.7 344.8,175.5 344.4,186.5 343.0,188.2 341.2,187.8 340.3,185.1 339.3,174.3 337.7,175.0 336.6,171.5 335.9,175.0 333.8,175.4 332.2,174.3 331.8,169.5 330.8,168.1 329.0,166.7 327.7,163.3 326.7,153.7 325.9,146.9 322.6,147.5 322.2,148.2 320.8,155.8 319.0,156.5 318.5,172.9 317.4,175.0 315.7,177.0 315.3,187.3 314.4,189.4 312.6,189.1 311.6,186.6 310.8,170.2 309.8,168.1 307.8,168.1 306.1,167.4 305.3,182.2 303.7,183.6 302.0,182.8 300.9,179.8 300.2,165.4 298.2,164.7 297.5,174.3 296.8,186.6 295.7,190.5 294.1,191.4 292.7,189.4 292.4,181.1 291.6,166.1 289.9,164.7 287.9,160.6 285.8,155.1 284.5,148.2 284.5,140.0 284.5,137.6 281.7,134.9 279.0,132.1 276.2,130.7 275.5,134.9 274.9,156.8 274.9,140.0 274.6,153.7 273.5,157.6 270.1,157.6 268.0,157.1 267.3,160.6 265.3,162.6 263.6,164.0 262.8,168.5 261.1,169.5 259.8,168.1 259.1,160.6 258.1,151.0 257.7,140.0 257.7,134.9 255.9,135.5 253.6,132.8 251.8,130.1 250.4,132.1 249.9,145.8 249.9,140.0 249.1,148.2 248.1,157.8 247.4,167.4 246.7,179.8 246.1,190.7 245.0,192.4 243.6,192.4 242.6,190.7 241.9,175.7 240.0,174.3 239.6,185.3 238.9,196.2 237.6,197.6 236.2,197.3 235.1,194.9 234.4,181.1 233.4,188.0 231.7,188.7 230.4,187.3 230.0,189.2 229.0,191.7 227.7,192.2 226.3,191.3 225.6,187.8 225.2,178.0 224.1,164.2 222.0,152.6 220.9,139.0 219.3,139.0 218.8,152.2 218.8,170.0 218.6,178.2 218.1,185.1 217.2,191.9 217.1,211.1 216.8,230.3 215.9,232.8 214.6,233.6 213.5,233.1 212.6,230.3 212.4,211.1 212.2,195.4 210.8,194.0 209.8,197.4 208.7,198.8 206.7,199.2 205.0,198.5 204.4,196.7 203.3,197.4 201.6,198.5 199.8,198.1 198.9,196.7 197.8,195.4 196.7,196.3 195.3,196.3 194.1,194.7 193.7,190.6 192.3,190.6 191.2,191.9 190.9,210.5 190.1,213.2 188.4,214.2 186.8,213.6 185.8,211.1 185.4,197.4 184.7,191.9 182.7,191.7 181.3,190.6 181.0,178.2 181.0,176.0 180.2,162.3 179.3,154.7 177.2,149.9 174.2,140.3 172.4,134.9 171.0,123.9 169.5,119.8 169.2,176.0 168.4,173.4 166.8,173.8 166.0,175.5 165.1,197.4 163.8,198.8 162.4,198.1 161.4,196.1 161.0,171.4 158.7,171.4 158.3,178.2 157.3,186.7 155.3,187.1 154.6,197.4 152.8,198.8 151.1,198.1 149.8,196.7 149.1,201.3 147.3,202.6 145.4,201.3 144.3,196.7 144.3,170.0 143.7,176.0 142.6,162.3 140.9,156.5 139.5,162.3 138.8,176.0 138.5,170.0 138.3,176.9 137.4,179.6 136.1,183.7 135.4,193.6 133.3,195.4 132.8,230.3 131.9,233.4 130.6,234.5 129.5,233.4 128.7,230.3 128.4,212.5 127.6,211.1 126.7,212.5 126.5,230.3 124.7,231.7 122.9,230.3 122.6,211.1 122.3,188.5 120.7,184.4 119.1,183.0 119.1,170.0" fill="none" stroke="#000" stroke-width="1.3" stroke-linejoin="round"/>
<polyline points="287.7,159.6 287.6,142.3" fill="none" stroke="#000" stroke-width="0.8" stroke-linecap="round"/>
<polyline points="562.6,144.0 562.1,136.6" fill="none" stroke="#000" stroke-width="0.8" stroke-linecap="round"/>
<polyline points="302.9,147.4 303.5,162.5" fill="none" stroke="#000" stroke-width="0.8" stroke-linecap="round"/>
<polyline points="712.1,128.0 712.2,151.9" fill="none" stroke="#000" stroke-width="0.8" stroke-linecap="round"/>
<polyline points="569.1,186.5 569.1,146.7" fill="none" stroke="#000" stroke-width="0.8" stroke-linecap="round"/>
<polyline points="595.0,181.0 595.3,159.4" fill="none" stroke="#000" stroke-width="0.8" stroke-linecap="round"/>
<polyline points="332.6,135.5 333.0,147.5" fill="none" stroke="#000" stroke-width="0.8" stroke-linecap="round"/>
<polyline points="628.6,201.9 628.9,165.0" fill="none" stroke="#000" stroke-width="0.8" stroke-linecap="round"/>
<polyline points="399.0,215.0 399.0,181.6" fill="none" stroke="#000" stroke-width="0.8" stroke-linecap="round"/>
<polyline points="742.1,122.5 741.7,132.1" fill="none" stroke="#000" stroke-width="0.8" stroke-linecap="round"/>
<polyline points="803.5,148.6 803.7,165.1" fill="none" stroke="#000" stroke-width="0.8" stroke-linecap="round"/>
<polyline points="478.6,139.9 478.5,129.4" fill="none" stroke="#000" stroke-width="0.8" stroke-linecap="round"/>
<polyline points="533.2,155.0 533.5,138.2" fill="none" stroke="#000" stroke-width="0.8" stroke-linecap="round"/>
<polyline points="726.2,117.8 726.4,156.7" fill="none" stroke="#000" stroke-width="0.8" stroke-linecap="round"/>
<polyline points="729.2,170.2 729.7,138.1" fill="none" stroke="#000" stroke-width="0.8" stroke-linecap="round"/>
<polyline points="625.1,217.2 625.5,191.0" fill="none" stroke="#000" stroke-width="0.8" stroke-linecap="round"/>
<polyline points="321.0,154.0 321.5,140.1" fill="none" stroke="#000" stroke-width="0.8" stroke-linecap="round"/>
<polyline points="181.8,139.8 181.7,177.5" fill="none" stroke="#000" stroke-width="0.8" stroke-linecap="round"/>
<polyline points="327.4,136.8 327.8,153.7" fill="none" stroke="#000" stroke-width="0.8" stroke-linecap="round"/>
<polyline points="554.7,118.2 555.0,130.3" fill="none" stroke="#000" stroke-width="0.8" stroke-linecap="round"/>
<polyline points="743.6,149.7 743.6,125.7" fill="none" stroke="#000" stroke-width="0.8" stroke-linecap="round"/>
<polyline points="338.6,131.3 338.7,145.8" fill="none" stroke="#000" stroke-width="0.8" stroke-linecap="round"/>
<polyline points="258.9,113.3 259.1,137.1" fill="none" stroke="#000" stroke-width="0.8" stroke-linecap="round"/>
<polyline points="149.1,200.8 148.9,155.5" fill="none" stroke="#000" stroke-width="0.8" stroke-linecap="round"/>
<polyline points="754.7,156.0 754.7,148.6" fill="none" stroke="#000" stroke-width="0.8" stroke-linecap="round"/>
<polyline points="575.5,194.5 575.6,159.5" fill="none" stroke="#000" stroke-width="0.8" stroke-linecap="round"/>
<polyline points="785.9,181.7 785.8,150.7" fill="none" stroke="#000" stroke-width="0.8" stroke-linecap="round"/>
<polyline points="287.5,159.0 288.1,146.0" fill="none" stroke="#000" stroke-width="0.8" stroke-linecap="round"/>
<polyline points="507.8,171.4 507.7,162.6" fill="none" stroke="#000" stroke-width="0.8" stroke-linecap="round"/>
<polyline points="133.2,155.6 133.4,184.8" fill="none" stroke="#000" stroke-width="0.8" stroke-linecap="round"/>
<polyline points="563.8,121.0 564.0,133.8" fill="none" stroke="#000" stroke-width="0.8" stroke-linecap="round"/>
<polyline points="620.2,152.4 619.7,183.6" fill="none" stroke="#000" stroke-width="0.8" stroke-linecap="round"/>
<polyline points="598.3,135.4 598.0,205.5" fill="none" stroke="#000" stroke-width="0.8" stroke-linecap="round"/>
<polyline points="539.2,141.2 539.0,160.0" fill="none" stroke="#000" stroke-width="0.8" stroke-linecap="round"/>
<polyline points="380.7,129.1 380.5,182.3" fill="none" stroke="#000" stroke-width="0.8" stroke-linecap="round"/>
<polyline points="666.5,211.2 666.6,188.8" fill="none" stroke="#000" stroke-width="0.8" stroke-linecap="round"/>
<polyline points="338.8,131.2 339.2,149.2" fill="none" stroke="#000" stroke-width="0.8" stroke-linecap="round"/>
<polyline points="251.9,107.6 252.1,119.5" fill="none" stroke="#000" stroke-width="0.8" stroke-linecap="round"/>
<polyline points="347.3,144.8 347.7,157.9" fill="none" stroke="#000" stroke-width="0.8" stroke-linecap="round"/>
<polyline points="725.6,163.2 725.4,145.3" fill="none" stroke="#000" stroke-width="0.8" stroke-linecap="round"/>
<polyline points="746.4,128.4 746.1,140.2" fill="none" stroke="#000" stroke-width="0.8" stroke-linecap="round"/>
<polyline points="494.5,154.2 494.9,138.5" fill="none" stroke="#000" stroke-width="0.8" stroke-linecap="round"/>
<polyline points="249.2,146.8 249.5,127.9" fill="none" stroke="#000" stroke-width="0.8" stroke-linecap="round"/>
<polyline points="690.6,131.7 690.2,155.1" fill="none" stroke="#000" stroke-width="0.8" stroke-linecap="round"/>
<polyline points="681.8,126.8 681.7,155.5" fill="none" stroke="#000" stroke-width="0.8" stroke-linecap="round"/>
<polyline points="416.6,161.5 417.1,195.3" fill="none" stroke="#000" stroke-width="0.8" stroke-linecap="round"/>
<polyline points="122.3,187.9 122.8,152.5" fill="none" stroke="#000" stroke-width="0.8" stroke-linecap="round"/>
<polyline points="427.0,158.7 427.5,216.0" fill="none" stroke="#000" stroke-width="0.8" stroke-linecap="round"/>
<polyline points="647.6,177.3 647.8,124.7" fill="none" stroke="#000" stroke-width="0.8" stroke-linecap="round"/>
<polyline points="323.9,110.4 323.6,128.1" fill="none" stroke="#000" stroke-width="0.8" stroke-linecap="round"/>
<polyline points="536.4,142.3 536.7,153.8" fill="none" stroke="#000" stroke-width="0.8" stroke-linecap="round"/>
<polyline points="759.7,184.7 760.2,155.5" fill="none" stroke="#000" stroke-width="0.8" stroke-linecap="round"/>
<polyline points="756.9,184.5 756.3,160.2" fill="none" stroke="#000" stroke-width="0.8" stroke-linecap="round"/>
<polyline points="240.8,174.4 241.0,152.6" fill="none" stroke="#000" stroke-width="0.8" stroke-linecap="round"/>
<polyline points="412.3,127.0 412.5,172.1" fill="none" stroke="#000" stroke-width="0.8" stroke-linecap="round"/>
<polyline points="298.0,166.5 298.0,131.6" fill="none" stroke="#000" stroke-width="0.8" stroke-linecap="round"/>
<polyline points="368.5,161.6 368.5,152.7" fill="none" stroke="#000" stroke-width="0.8" stroke-linecap="round"/>
<polyline points="240.5,174.1 241.0,139.1" fill="none" stroke="#000" stroke-width="0.8" stroke-linecap="round"/>
<polyline points="702.9,164.5 703.0,153.9" fill="none" stroke="#000" stroke-width="0.8" stroke-linecap="round"/>
<polyline points="154.4,197.1 154.1,168.7" fill="none" stroke="#000" stroke-width="0.8" stroke-linecap="round"/>
<polyline points="418.9,142.9 419.2,189.8" fill="none" stroke="#000" stroke-width="0.8" stroke-linecap="round"/>
<polyline points="157.9,149.6 157.4,161.2" fill="none" stroke="#000" stroke-width="0.8" stroke-linecap="round"/>
<polyline points="810.1,188.7 809.6,151.3" fill="none" stroke="#000" stroke-width="0.8" stroke-linecap="round"/>
<polyline points="343.0,187.7 342.8,163.0" fill="none" stroke="#000" stroke-width="0.8" stroke-linecap="round"/>
<polyline points="534.9,140.8 534.5,148.2" fill="none" stroke="#000" stroke-width="0.8" stroke-linecap="round"/>
<polyline points="206.7,136.3 207.0,174.2" fill="none" stroke="#000" stroke-width="0.8" stroke-linecap="round"/>
<polyline points="175.6,144.5 175.5,133.6" fill="none" stroke="#000" stroke-width="0.8" stroke-linecap="round"/>
<polyline points="673.9,187.8 674.2,158.5" fill="none" stroke="#000" stroke-width="0.8" stroke-linecap="round"/>
<polyline points="425.0,254.4 425.0,209.4" fill="none" stroke="#000" stroke-width="0.8" stroke-linecap="round"/>
<polyline points="417.1,147.3 417.1,201.3" fill="none" stroke="#000" stroke-width="0.8" stroke-linecap="round"/>
<polyline points="498.9,137.7 498.4,161.0" fill="none" stroke="#000" stroke-width="0.8" stroke-linecap="round"/>
<polyline points="420.9,143.9 421.5,207.1" fill="none" stroke="#000" stroke-width="0.8" stroke-linecap="round"/>
<polyline points="755.6,145.5 755.3,167.2" fill="none" stroke="#000" stroke-width="0.8" stroke-linecap="round"/>
<polyline points="206.3,198.6 206.5,151.4" fill="none" stroke="#000" stroke-width="0.8" stroke-linecap="round"/>
<polyline points="680.9,189.9 681.1,149.9" fill="none" stroke="#000" stroke-width="0.8" stroke-linecap="round"/>
<polyline points="192.1,149.1 191.5,174.9" fill="none" stroke="#000" stroke-width="0.8" stroke-linecap="round"/>
<polyline points="668.0,139.2 667.5,154.8" fill="none" stroke="#000" stroke-width="0.8" stroke-linecap="round"/>
<polyline points="743.3,149.7 742.7,138.6" fill="none" stroke="#000" stroke-width="0.8" stroke-linecap="round"/>
<polyline points="205.0,197.9 205.2,150.2" fill="none" stroke="#000" stroke-width="0.8" stroke-linecap="round"/>
<polyline points="794.3,128.5 794.6,161.9" fill="none" stroke="#000" stroke-width="0.8" stroke-linecap="round"/>
<polyline points="663.1,142.4 663.4,182.5" fill="none" stroke="#000" stroke-width="0.8" stroke-linecap="round"/>
<polyline points="650.0,106.4 649.5,130.4" fill="none" stroke="#000" stroke-width="0.8" stroke-linecap="round"/>
<polyline points="518.9,134.9 518.6,169.5" fill="none" stroke="#000" stroke-width="0.8" stroke-linecap="round"/>
<polyline points="296.2,122.9 296.5,164.7" fill="none" stroke="#000" stroke-width="0.8" stroke-linecap="round"/>
<polyline points="379.5,130.0 379.4,172.6" fill="none" stroke="#000" stroke-width="0.8" stroke-linecap="round"/>
<polyline points="178.0,121.3 178.6,138.7" fill="none" stroke="#000" stroke-width="0.8" stroke-linecap="round"/>
<polyline points="648.9,174.1 649.1,148.1" fill="none" stroke="#000" stroke-width="0.8" stroke-linecap="round"/>
<polyline points="596.8,217.6 596.7,159.8" fill="none" stroke="#000" stroke-width="0.8" stroke-linecap="round"/>
<polyline points="755.3,161.8 754.8,155.0" fill="none" stroke="#000" stroke-width="0.8" stroke-linecap="round"/>
<polyline points="768.9,164.6 768.8,151.4" fill="none" stroke="#000" stroke-width="0.8" stroke-linecap="round"/>
<polyline points="251.0,130.9 250.6,119.7" fill="none" stroke="#000" stroke-width="0.8" stroke-linecap="round"/>
<polyline points="342.2,187.6 342.5,164.2" fill="none" stroke="#000" stroke-width="0.8" stroke-linecap="round"/>
<polyline points="328.8,165.6 328.7,146.3" fill="none" stroke="#000" stroke-width="0.8" stroke-linecap="round"/>
<polyline points="533.5,134.6 533.2,143.7" fill="none" stroke="#000" stroke-width="0.8" stroke-linecap="round"/>
<polyline points="459.0,158.1 458.6,162.0" fill="none" stroke="#000" stroke-width="0.8" stroke-linecap="round"/>
<polyline points="347.3,171.8 346.9,152.0" fill="none" stroke="#000" stroke-width="0.8" stroke-linecap="round"/>
<polyline points="459.0,165.7 459.0,160.8" fill="none" stroke="#000" stroke-width="0.8" stroke-linecap="round"/>
<polyline points="701.5,181.9 701.5,150.1" fill="none" stroke="#000" stroke-width="0.8" stroke-linecap="round"/>
<polyline points="726.4,163.5 726.6,139.8" fill="none" stroke="#000" stroke-width="0.8" stroke-linecap="round"/>
<polyline points="450.4,196.8 450.1,168.9" fill="none" stroke="#000" stroke-width="0.8" stroke-linecap="round"/>
<polyline points="597.8,129.5 598.2,204.1" fill="none" stroke="#000" stroke-width="0.8" stroke-linecap="round"/>
<polyline points="253.4,132.1 253.1,126.4" fill="none" stroke="#000" stroke-width="0.8" stroke-linecap="round"/>
<polyline points="727.7,164.9 727.5,134.9" fill="none" stroke="#000" stroke-width="0.8" stroke-linecap="round"/>
<polyline points="341.2,131.5 341.5,161.2" fill="none" stroke="#000" stroke-width="0.8" stroke-linecap="round"/>
<polyline points="184.7,153.0 184.4,182.4" fill="none" stroke="#000" stroke-width="0.8" stroke-linecap="round"/>
<polyline points="530.4,135.2 529.8,152.1" fill="none" stroke="#000" stroke-width="0.8" stroke-linecap="round"/>
<polyline points="428.3,206.2 427.9,171.1" fill="none" stroke="#000" stroke-width="0.8" stroke-linecap="round"/>
<polyline points="796.3,126.8 796.4,158.0" fill="none" stroke="#000" stroke-width="0.8" stroke-linecap="round"/>
<polyline points="313.8,188.8 313.3,156.1" fill="none" stroke="#000" stroke-width="0.8" stroke-linecap="round"/>
<polyline points="763.3,138.4 763.8,147.8" fill="none" stroke="#000" stroke-width="0.8" stroke-linecap="round"/>
<polyline points="666.6,210.6 666.4,159.3" fill="none" stroke="#000" stroke-width="0.8" stroke-linecap="round"/>
<polyline points="582.7,195.2 582.5,157.9" fill="none" stroke="#000" stroke-width="0.8" stroke-linecap="round"/>
<polyline points="800.6,128.0 800.6,162.2" fill="none" stroke="#000" stroke-width="0.8" stroke-linecap="round"/>
<polyline points="469.2,171.4 469.4,156.6" fill="none" stroke="#000" stroke-width="0.8" stroke-linecap="round"/>
<polyline points="520.6,174.2 520.7,157.9" fill="none" stroke="#000" stroke-width="0.8" stroke-linecap="round"/>
<polyline points="246.0,135.9 246.2,179.2" fill="none" stroke="#000" stroke-width="0.8" stroke-linecap="round"/>
<polyline points="779.7,162.3 779.5,146.8" fill="none" stroke="#000" stroke-width="0.8" stroke-linecap="round"/>
<polyline points="542.6,141.1 542.8,165.9" fill="none" stroke="#000" stroke-width="0.8" stroke-linecap="round"/>
<polyline points="340.5,185.3 340.0,163.9" fill="none" stroke="#000" stroke-width="0.8" stroke-linecap="round"/>
<polyline points="653.9,106.7 654.2,122.0" fill="none" stroke="#000" stroke-width="0.8" stroke-linecap="round"/>
<polyline points="307.5,156.5 307.9,162.1" fill="none" stroke="#000" stroke-width="0.8" stroke-linecap="round"/>
<polyline points="476.8,120.2 477.2,131.6" fill="none" stroke="#000" stroke-width="0.8" stroke-linecap="round"/>
<polyline points="355.0,200.5 355.0,172.4" fill="none" stroke="#000" stroke-width="0.8" stroke-linecap="round"/>
<polyline points="369.2,139.9 368.7,159.1" fill="none" stroke="#000" stroke-width="0.8" stroke-linecap="round"/>
<polyline points="189.7,213.0 190.0,190.3" fill="none" stroke="#000" stroke-width="0.8" stroke-linecap="round"/>
<polyline points="250.1,141.4 250.0,126.7" fill="none" stroke="#000" stroke-width="0.8" stroke-linecap="round"/>
<polyline points="697.4,121.5 697.5,164.6" fill="none" stroke="#000" stroke-width="0.8" stroke-linecap="round"/>
<polyline points="401.5,197.4 401.5,185.6" fill="none" stroke="#000" stroke-width="0.8" stroke-linecap="round"/>
<polyline points="262.3,124.4 262.6,143.5" fill="none" stroke="#000" stroke-width="0.8" stroke-linecap="round"/>
<polyline points="688.4,134.5 689.0,174.0" fill="none" stroke="#000" stroke-width="0.8" stroke-linecap="round"/>
<polyline points="510.8,169.5 511.0,149.4" fill="none" stroke="#000" stroke-width="0.8" stroke-linecap="round"/>
<polyline points="605.8,143.5 606.3,171.1" fill="none" stroke="#000" stroke-width="0.8" stroke-linecap="round"/>
<polyline points="545.4,189.2 544.8,165.4" fill="none" stroke="#000" stroke-width="0.8" stroke-linecap="round"/>
<polyline points="588.3,149.0 588.3,182.6" fill="none" stroke="#000" stroke-width="0.8" stroke-linecap="round"/>
<polyline points="256.1,135.0 255.6,122.1" fill="none" stroke="#000" stroke-width="0.8" stroke-linecap="round"/>
<polyline points="577.0,194.7 577.1,167.7" fill="none" stroke="#000" stroke-width="0.8" stroke-linecap="round"/>
<polyline points="751.5,158.3 751.8,151.9" fill="none" stroke="#000" stroke-width="0.8" stroke-linecap="round"/>
<polyline points="154.9,133.7 154.6,162.9" fill="none" stroke="#000" stroke-width="0.8" stroke-linecap="round"/>
<polyline points="501.1,175.6 500.9,147.3" fill="none" stroke="#000" stroke-width="0.8" stroke-linecap="round"/>
<polyline points="611.5,168.0 611.9,149.3" fill="none" stroke="#000" stroke-width="0.8" stroke-linecap="round"/>
<polyline points="776.2,119.2 776.5,153.1" fill="none" stroke="#000" stroke-width="0.8" stroke-linecap="round"/>
<polyline points="690.9,131.1 691.4,167.4" fill="none" stroke="#000" stroke-width="0.8" stroke-linecap="round"/>
<polyline points="655.6,123.0 655.1,153.6" fill="none" stroke="#000" stroke-width="0.8" stroke-linecap="round"/>
<polyline points="174.3,103.2 173.9,118.2" fill="none" stroke="#000" stroke-width="0.8" stroke-linecap="round"/>
<polyline points="614.8,219.2 614.7,158.5" fill="none" stroke="#000" stroke-width="0.8" stroke-linecap="round"/>
<polyline points="335.0,134.7 335.3,156.9" fill="none" stroke="#000" stroke-width="0.8" stroke-linecap="round"/>
<polyline points="247.0,108.5 247.3,160.8" fill="none" stroke="#000" stroke-width="0.8" stroke-linecap="round"/>
<polyline points="382.0,126.1 382.1,177.7" fill="none" stroke="#000" stroke-width="0.8" stroke-linecap="round"/>
<polyline points="120.9,144.6 121.3,161.1" fill="none" stroke="#000" stroke-width="0.8" stroke-linecap="round"/>
<polyline points="445.1,112.8 444.8,133.6" fill="none" stroke="#000" stroke-width="0.8" stroke-linecap="round"/><g stroke="#000" stroke-width="0.7"><circle cx="124.7" cy="192.0" r="1.95" fill="#ff8c00"/><circle cx="124.7" cy="196.0" r="1.95" fill="#ff8c00"/><circle cx="124.7" cy="200.5" r="1.95" fill="#ff8c00"/><circle cx="124.7" cy="205.0" r="1.95" fill="#ff8c00"/><circle cx="124.7" cy="209.5" r="1.95" fill="#ff8c00"/><circle cx="124.7" cy="214.0" r="1.95" fill="#ff8c00"/><circle cx="124.7" cy="218.5" r="1.95" fill="#ff8c00"/><circle cx="124.7" cy="223.0" r="1.95" fill="#ff8c00"/><circle cx="124.7" cy="227.5" r="1.95" fill="#ff8c00"/><circle cx="381.4" cy="157.0" r="1.95" fill="#ff0000"/><circle cx="381.4" cy="161.0" r="1.95" fill="#ff0000"/><circle cx="381.4" cy="165.0" r="1.95" fill="#ff0000"/><circle cx="381.4" cy="169.0" r="1.95" fill="#ff0000"/><circle cx="381.4" cy="173.0" r="1.95" fill="#ff0000"/><circle cx="381.4" cy="177.0" r="1.95" fill="#ff0000"/><circle cx="381.4" cy="181.0" r="1.95" fill="#ff0000"/><circle cx="381.4" cy="185.0" r="1.95" fill="#ff0000"/><circle cx="381.4" cy="189.0" r="1.95" fill="#ff0000"/><circle cx="214.5" cy="199.0" r="1.95" fill="#483d8b"/><circle cx="214.5" cy="203.5" r="1.95" fill="#483d8b"/><circle cx="214.5" cy="208.0" r="1.95" fill="#483d8b"/><circle cx="214.5" cy="212.5" r="1.95" fill="#483d8b"/><circle cx="214.5" cy="217.0" r="1.95" fill="#483d8b"/><circle cx="214.5" cy="221.5" r="1.95" fill="#483d8b"/><circle cx="214.5" cy="226.0" r="1.95" fill="#483d8b"/><circle cx="214.5" cy="230.0" r="1.95" fill="#483d8b"/><circle cx="467.0" cy="176.7" r="1.95" fill="#00bfff"/><circle cx="467.4" cy="185.0" r="1.95" fill="#00bfff"/><circle cx="465.4" cy="190.5" r="1.95" fill="#00bfff"/></g></g>
<path d="M196.5 267.5v4.9M417.5 267.5v4.9M639.5 267.5v4.9M860.5 267.5v4.9M86.5 33.5h-4.9M86.5 66.92857142857143h-4.9M86.5 100.35714285714286h-4.9M86.5 133.78571428571428h-4.9M86.5 167.21428571428572h-4.9M86.5 200.64285714285717h-4.9M86.5 234.07142857142858h-4.9M86.5 267.5h-4.9" stroke="#000" stroke-width="1.1" fill="none"/>
<rect x="86.5" y="33.5" width="775.0" height="234.0" fill="none" stroke="#000" stroke-width="1.1"/>
<text x="76.6" y="39.6" text-anchor="end" font-size="16.67">1080</text>
<text x="76.6" y="73.0" text-anchor="end" font-size="16.67">1060</text>
<text x="76.6" y="106.5" text-anchor="end" font-size="16.67">1040</text>
<text x="76.6" y="139.9" text-anchor="end" font-size="16.67">1020</text>
<text x="76.6" y="173.3" text-anchor="end" font-size="16.67">1000</text>
<text x="76.6" y="206.7" text-anchor="end" font-size="16.67">980</text>
<text x="76.6" y="240.2" text-anchor="end" font-size="16.67">960</text>
<text x="76.6" y="273.6" text-anchor="end" font-size="16.67">940</text>
<text transform="translate(203.4 279.1) rotate(-85)" text-anchor="end" font-size="13.89" letter-spacing="-0.28">01/22/23</text>
<text transform="translate(424.4 279.1) rotate(-85)" text-anchor="end" font-size="13.89" letter-spacing="-0.28">01/22/24</text>
<text transform="translate(646.4 279.1) rotate(-85)" text-anchor="end" font-size="13.89" letter-spacing="-0.28">01/22/25</text>
<text transform="translate(866.1 279.1) rotate(-85)" text-anchor="end" font-size="13.89" letter-spacing="-0.28">01/22/26</text>
<text transform="translate(23.4 151.5) rotate(-90)" text-anchor="middle" font-size="16.67">Sea Level Pressure</text>
<text x="472.7" y="25.0" text-anchor="middle" font-size="20.1">Sea Level Pressure 300234062036040  09/19/2022 to 11/26/2025</text>
<clipPath id="c2"><rect x="86.5" y="384.5" width="775.0" height="233.0"/></clipPath>
<path d="M196.5 384.5V617.5M417.5 384.5V617.5M639.5 384.5V617.5M860.5 384.5V617.5M86.5 423.3333333333333H861.5M86.5 462.1666666666667H861.5M86.5 501.0H861.5M86.5 539.8333333333334H861.5M86.5 578.6666666666667H861.5" stroke="#b0b0b0" stroke-width="1.1" fill="none"/>
<g clip-path="url(#c2)"><polygon points="119.1,435.9 119.9,433.6 121.7,432.9 123.7,433.6 125.8,435.7 127.1,438.4 127.6,446.6 128.1,446.8 128.1,451.5 127.1,451.0 125.1,450.5 123.3,449.4 123.0,440.5 121.7,439.1 119.9,437.7 119.1,435.9" fill="#ff8c00"/>
<polygon points="127.6,446.6 127.6,446.6 129.9,447.3 133.3,448.0 137.4,448.3 141.5,448.3 145.9,448.7 146.8,448.7 146.8,454.4 144.3,454.3 139.5,453.8 134.7,453.5 130.6,452.8 127.6,451.2" fill="#ff4500"/>
<polygon points="146.3,448.7 151.1,448.7 153.9,448.0 157.3,447.3 160.7,446.6 163.8,446.9 165.0,447.9 165.0,453.1 164.2,452.8 162.8,451.4 158.7,452.1 155.3,452.8 153.6,454.2 149.8,454.4 146.3,454.4" fill="#ff0000"/>
<polygon points="164.5,447.5 165.1,448.0 169.0,448.3 174.5,448.0 174.7,441.8 175.8,440.9 177.9,441.1 179.9,443.2 182.7,443.9 183.8,443.7 183.8,453.3 178.6,453.5 174.5,454.2 170.3,454.4 166.9,453.8 164.5,452.9" fill="#8b4513"/>
<polygon points="183.3,443.8 184.7,443.6 186.8,443.2 188.4,444.2 189.5,446.6 192.3,446.4 195.7,446.6 198.5,448.0 200.5,449.4 202.6,449.2 202.6,454.5 201.2,455.3 199.1,454.6 195.0,453.8 188.9,453.8 185.4,453.5 184.7,453.2 183.3,453.3" fill="#000000"/>
<polygon points="202.1,449.2 203.3,449.1 206.0,448.3 208.7,449.1 212.2,449.6 217.0,450.1 219.5,449.4 219.5,454.2 216.3,454.9 214.2,456.2 212.2,456.0 209.4,454.2 206.0,453.5 203.3,454.2 202.1,454.8" fill="#483d8b"/>
<polygon points="219.0,449.5 219.7,449.4 222.5,448.7 225.2,446.6 227.9,443.9 230.0,441.8 230.7,434.9 232.3,432.1 234.4,430.7 236.5,430.5 238.3,429.7 238.3,437.4 236.5,438.3 234.8,440.3 233.7,444.5 233.0,449.9 230.3,452.0 230.0,451.4 227.9,452.8 225.9,453.8 223.1,454.6 219.7,454.2 219.0,454.3" fill="#0000ff"/>
<polygon points="237.8,429.9 239.2,429.4 242.6,428.0 246.1,426.6 248.1,424.6 250.2,423.9 252.2,425.0 254.3,426.9 256.5,427.2 256.5,431.8 255.0,431.0 251.5,431.4 247.4,432.1 244.7,433.2 241.9,434.9 239.2,436.9 237.8,437.6" fill="#00bfff"/>
<polygon points="256.0,427.1 257.7,427.3 261.1,426.6 264.6,426.6 268.0,426.9 271.4,425.9 272.8,423.9 273.8,421.8 275.2,420.6 275.2,430.9 274.9,432.1 272.1,432.8 268.0,433.2 263.9,433.8 259.8,433.5 257.0,432.1 256.0,431.5" fill="#00ffff"/>
<polygon points="274.7,421.0 276.2,419.8 279.0,417.7 281.7,415.9 284.2,414.3 284.7,406.7 285.8,404.7 287.9,404.4 289.3,405.8 291.3,406.3 293.4,405.4 293.4,405.3 293.4,416.8 293.4,417.0 291.3,419.8 288.6,421.8 285.8,423.2 282.4,424.6 279.0,426.6 276.0,428.7 274.9,432.1 274.7,432.1" fill="#32cd32"/>
<polygon points="292.9,405.6 293.4,405.4 295.4,403.3 296.8,400.6 298.9,399.2 301.6,399.2 303.4,400.6 304.3,403.3 305.7,404.0 307.8,403.0 309.4,404.7 310.8,405.4 311.6,403.3 312.2,403.0 312.2,415.3 311.9,415.4 309.8,414.3 307.8,412.2 305.0,410.9 302.3,409.5 300.2,408.8 298.9,410.9 296.8,412.2 294.1,413.6 293.4,417.0 292.9,417.6" fill="#00ff00"/>
<polygon points="311.7,403.3 313.3,402.4 315.3,402.6 316.7,400.6 318.1,398.5 319.8,397.8 321.2,399.2 322.2,402.6 323.5,405.4 325.6,406.7 328.3,408.1 330.4,408.5 331.0,408.8 331.0,417.0 330.8,417.0 329.7,419.1 327.7,419.5 326.3,417.7 324.2,415.0 320.8,413.6 318.7,412.9 317.4,414.3 314.6,415.0 311.9,415.4 311.7,415.3" fill="#ffff00"/>
<polygon points="330.5,408.6 332.5,409.5 335.2,410.9 337.9,412.9 340.0,413.6 341.0,415.4 342.3,416.3 343.7,418.4 347.1,419.8 349.1,419.8 349.1,424.6 347.1,425.3 345.8,426.6 345.4,438.3 343.7,439.7 341.7,441.0 340.4,441.0 340.0,441.0 338.6,440.3 338.2,421.1 337.3,418.4 335.2,417.0 333.1,416.3 330.8,417.0 330.5,417.7" fill="#ff8c00"/>
<polygon points="348.6,419.8 350.6,419.8 352.6,421.1 354.7,423.2 358.8,424.2 362.9,424.6 367.0,424.6 367.9,424.3 367.9,431.5 366.3,432.1 363.6,432.1 360.2,430.5 356.1,429.6 352.6,428.0 350.6,425.9 349.2,424.6 348.6,424.8" fill="#ff4500"/>
<polygon points="367.4,424.4 369.8,423.6 372.5,423.9 375.3,425.3 378.7,427.3 382.1,429.4 384.9,431.0 386.1,431.5 386.1,437.5 385.5,437.3 382.8,436.0 379.4,433.8 376.6,432.1 373.9,430.5 371.1,430.1 369.1,431.0 367.4,431.7" fill="#ff0000"/>
<polygon points="385.6,431.3 387.6,432.1 391.0,433.5 394.5,434.6 397.9,435.1 399.9,436.9 402.0,439.0 402.4,441.7 402.4,441.7 401.6,442.8 399.9,443.4 398.3,442.4 395.8,440.3 392.4,439.2 389.0,438.3 385.6,437.3" fill="#8b4513"/>
<polygon points="119.1,435.9 119.1,435.7 119.9,433.6 121.7,432.9 123.7,433.6 125.8,435.7 127.1,438.4 127.6,446.6 129.9,447.3 133.3,448.0 137.4,448.3 141.5,448.3 145.9,448.7 151.1,448.7 153.9,448.0 157.3,447.3 160.7,446.6 163.8,446.9 165.1,448.0 169.0,448.3 174.5,448.0 174.7,441.8 175.8,440.9 177.9,441.1 179.9,443.2 182.7,443.9 184.7,443.6 186.8,443.2 188.4,444.2 189.5,446.6 192.3,446.4 195.7,446.6 198.5,448.0 200.5,449.4 203.3,449.1 206.0,448.3 208.7,449.1 212.2,449.6 217.0,450.1 219.7,449.4 222.5,448.7 225.2,446.6 227.9,443.9 230.0,441.8 230.7,434.9 232.3,432.1 234.4,430.7 236.5,430.5 239.2,429.4 242.6,428.0 246.1,426.6 248.1,424.6 250.2,423.9 252.2,425.0 254.3,426.9 257.7,427.3 261.1,426.6 264.6,426.6 268.0,426.9 271.4,425.9 272.8,423.9 273.8,421.8 276.2,419.8 279.0,417.7 281.7,415.9 284.2,414.3 284.7,406.7 285.8,404.7 287.9,404.4 289.3,405.8 291.3,406.3 293.4,405.4 295.4,403.3 296.8,400.6 298.9,399.2 301.6,399.2 303.4,400.6 304.3,403.3 305.7,404.0 307.8,403.0 309.4,404.7 310.8,405.4 311.6,403.3 313.3,402.4 315.3,402.6 316.7,400.6 318.1,398.5 319.8,397.8 321.2,399.2 322.2,402.6 323.5,405.4 325.6,406.7 328.3,408.1 330.4,408.5 332.5,409.5 335.2,410.9 337.9,412.9 340.0,413.6 341.0,415.4 342.3,416.3 343.7,418.4 347.1,419.8 350.6,419.8 352.6,421.1 354.7,423.2 358.8,424.2 362.9,424.6 367.0,424.6 369.8,423.6 372.5,423.9 375.3,425.3 378.7,427.3 382.1,429.4 384.9,431.0 387.6,432.1 391.0,433.5 394.5,434.6 397.9,435.1 399.9,436.9 402.0,439.0 402.4,441.7 402.4,441.7 401.6,442.8 399.9,443.4 398.3,442.4 395.8,440.3 392.4,439.2 389.0,438.3 385.5,437.3 382.8,436.0 379.4,433.8 376.6,432.1 373.9,430.5 371.1,430.1 369.1,431.0 366.3,432.1 363.6,432.1 360.2,430.5 356.1,429.6 352.6,428.0 350.6,425.9 349.2,424.6 347.1,425.3 345.8,426.6 345.4,438.3 343.7,439.7 341.7,441.0 340.4,441.0 340.0,441.0 338.6,440.3 338.2,421.1 337.3,418.4 335.2,417.0 333.1,416.3 330.8,417.0 329.7,419.1 327.7,419.5 326.3,417.7 324.2,415.0 320.8,413.6 318.7,412.9 317.4,414.3 314.6,415.0 311.9,415.4 309.8,414.3 307.8,412.2 305.0,410.9 302.3,409.5 300.2,408.8 298.9,410.9 296.8,412.2 294.1,413.6 293.4,417.0 291.3,419.8 288.6,421.8 285.8,423.2 282.4,424.6 279.0,426.6 276.0,428.7 274.9,432.1 272.1,432.8 268.0,433.2 263.9,433.8 259.8,433.5 257.0,432.1 255.0,431.0 251.5,431.4 247.4,432.1 244.7,433.2 241.9,434.9 239.2,436.9 236.5,438.3 234.8,440.3 233.7,444.5 233.0,449.9 230.3,452.0 230.0,451.4 227.9,452.8 225.9,453.8 223.1,454.6 219.7,454.2 216.3,454.9 214.2,456.2 212.2,456.0 209.4,454.2 206.0,453.5 203.3,454.2 201.2,455.3 199.1,454.6 195.0,453.8 188.9,453.8 185.4,453.5 184.7,453.2 178.6,453.5 174.5,454.2 170.3,454.4 166.9,453.8 164.2,452.8 162.8,451.4 158.7,452.1 155.3,452.8 153.6,454.2 149.8,454.4 144.3,454.3 139.5,453.8 134.7,453.5 130.6,452.8 127.1,451.0 125.1,450.5 123.3,449.4 123.0,440.5 121.7,439.1 119.9,437.7 119.1,435.9" fill="none" stroke="#000" stroke-width="1.3" stroke-linejoin="round"/><g stroke="#000" stroke-width="0.7"><circle cx="437.5" cy="412.2" r="1.95" fill="#483d8b"/><circle cx="437.5" cy="421.1" r="1.95" fill="#483d8b"/><circle cx="442.1" cy="418.9" r="1.95" fill="#0000ff"/><circle cx="442.4" cy="420.4" r="1.95" fill="#0000ff"/><circle cx="442.5" cy="414.2" r="1.95" fill="#0000ff"/><circle cx="442.6" cy="411.9" r="1.95" fill="#0000ff"/><circle cx="443.4" cy="389.1" r="1.95" fill="#0000ff"/><circle cx="443.4" cy="394.5" r="1.95" fill="#0000ff"/><circle cx="443.4" cy="414.6" r="1.95" fill="#0000ff"/><circle cx="443.6" cy="414.6" r="1.95" fill="#0000ff"/><circle cx="443.9" cy="412.4" r="1.95" fill="#0000ff"/><circle cx="444.0" cy="418.3" r="1.95" fill="#0000ff"/><circle cx="444.0" cy="428.6" r="1.95" fill="#0000ff"/><circle cx="444.5" cy="422.0" r="1.95" fill="#0000ff"/><circle cx="445.1" cy="421.7" r="1.95" fill="#0000ff"/><circle cx="445.6" cy="421.8" r="1.95" fill="#0000ff"/><circle cx="445.7" cy="430.9" r="1.95" fill="#0000ff"/><circle cx="446.3" cy="424.0" r="1.95" fill="#0000ff"/><circle cx="446.7" cy="426.8" r="1.95" fill="#0000ff"/><circle cx="446.8" cy="422.0" r="1.95" fill="#0000ff"/><circle cx="447.0" cy="413.1" r="1.95" fill="#0000ff"/><circle cx="447.4" cy="425.7" r="1.95" fill="#0000ff"/><circle cx="448.3" cy="386.1" r="1.95" fill="#0000ff"/><circle cx="448.3" cy="398.5" r="1.95" fill="#0000ff"/><circle cx="448.6" cy="415.1" r="1.95" fill="#0000ff"/><circle cx="448.7" cy="427.0" r="1.95" fill="#0000ff"/><circle cx="449.1" cy="421.1" r="1.95" fill="#0000ff"/><circle cx="449.2" cy="416.2" r="1.95" fill="#0000ff"/><circle cx="449.7" cy="427.4" r="1.95" fill="#0000ff"/><circle cx="450.4" cy="428.0" r="1.95" fill="#0000ff"/><circle cx="450.6" cy="417.5" r="1.95" fill="#0000ff"/><circle cx="450.8" cy="411.3" r="1.95" fill="#0000ff"/><circle cx="451.3" cy="418.2" r="1.95" fill="#0000ff"/><circle cx="452.2" cy="429.5" r="1.95" fill="#0000ff"/><circle cx="452.4" cy="417.7" r="1.95" fill="#0000ff"/><circle cx="452.6" cy="411.5" r="1.95" fill="#0000ff"/><circle cx="453.1" cy="418.8" r="1.95" fill="#0000ff"/><circle cx="453.1" cy="425.1" r="1.95" fill="#0000ff"/><circle cx="453.7" cy="407.4" r="1.95" fill="#0000ff"/><circle cx="453.9" cy="415.9" r="1.95" fill="#0000ff"/><circle cx="454.3" cy="421.1" r="1.95" fill="#0000ff"/><circle cx="454.9" cy="411.4" r="1.95" fill="#0000ff"/><circle cx="454.9" cy="428.0" r="1.95" fill="#0000ff"/><circle cx="455.0" cy="424.4" r="1.95" fill="#0000ff"/><circle cx="456.1" cy="416.0" r="1.95" fill="#0000ff"/><circle cx="457.5" cy="389.1" r="1.95" fill="#0000ff"/><circle cx="457.5" cy="403.4" r="1.95" fill="#0000ff"/><circle cx="457.7" cy="385.7" r="1.95" fill="#0000ff"/><circle cx="457.7" cy="392.0" r="1.95" fill="#0000ff"/><circle cx="458.2" cy="411.0" r="1.95" fill="#0000ff"/><circle cx="458.2" cy="412.4" r="1.95" fill="#0000ff"/><circle cx="458.9" cy="412.0" r="1.95" fill="#0000ff"/><circle cx="458.9" cy="422.3" r="1.95" fill="#0000ff"/><circle cx="458.9" cy="394.9" r="1.95" fill="#0000ff"/><circle cx="459.6" cy="418.4" r="1.95" fill="#0000ff"/><circle cx="459.9" cy="419.1" r="1.95" fill="#0000ff"/><circle cx="460.2" cy="422.5" r="1.95" fill="#00bfff"/><circle cx="460.2" cy="411.5" r="1.95" fill="#00bfff"/><circle cx="460.5" cy="424.2" r="1.95" fill="#00bfff"/><circle cx="460.6" cy="423.1" r="1.95" fill="#00bfff"/><circle cx="460.7" cy="386.4" r="1.95" fill="#00bfff"/><circle cx="460.7" cy="399.2" r="1.95" fill="#00bfff"/><circle cx="460.9" cy="418.9" r="1.95" fill="#00bfff"/><circle cx="461.6" cy="394.6" r="1.95" fill="#00bfff"/><circle cx="461.8" cy="415.6" r="1.95" fill="#00bfff"/><circle cx="462.2" cy="419.6" r="1.95" fill="#00bfff"/><circle cx="462.5" cy="413.5" r="1.95" fill="#00bfff"/><circle cx="462.5" cy="417.5" r="1.95" fill="#00bfff"/><circle cx="462.5" cy="429.8" r="1.95" fill="#00bfff"/><circle cx="462.6" cy="415.4" r="1.95" fill="#00bfff"/><circle cx="463.0" cy="386.4" r="1.95" fill="#00bfff"/><circle cx="463.6" cy="419.5" r="1.95" fill="#00bfff"/><circle cx="463.9" cy="396.9" r="1.95" fill="#00bfff"/><circle cx="463.9" cy="404.7" r="1.95" fill="#00bfff"/><circle cx="463.9" cy="419.8" r="1.95" fill="#00bfff"/><circle cx="464.4" cy="418.4" r="1.95" fill="#00bfff"/><circle cx="465.3" cy="424.3" r="1.95" fill="#00bfff"/><circle cx="465.7" cy="427.5" r="1.95" fill="#00bfff"/><circle cx="465.7" cy="384.1" r="1.95" fill="#00bfff"/><circle cx="465.9" cy="426.1" r="1.95" fill="#00bfff"/><circle cx="466.1" cy="420.9" r="1.95" fill="#00bfff"/><circle cx="466.4" cy="422.5" r="1.95" fill="#00bfff"/><circle cx="466.5" cy="425.9" r="1.95" fill="#00bfff"/><circle cx="466.6" cy="401.5" r="1.95" fill="#00bfff"/><circle cx="466.9" cy="424.0" r="1.95" fill="#00bfff"/><circle cx="467.5" cy="407.4" r="1.95" fill="#00bfff"/><circle cx="467.9" cy="422.5" r="1.95" fill="#00bfff"/><circle cx="468.5" cy="383.7" r="1.95" fill="#00bfff"/><circle cx="469.3" cy="426.1" r="1.95" fill="#00bfff"/><circle cx="469.8" cy="419.1" r="1.95" fill="#00bfff"/><circle cx="469.8" cy="404.7" r="1.95" fill="#00bfff"/><circle cx="469.8" cy="411.5" r="1.95" fill="#00bfff"/><circle cx="470.0" cy="415.9" r="1.95" fill="#00bfff"/><circle cx="471.0" cy="427.9" r="1.95" fill="#00bfff"/><circle cx="471.2" cy="386.4" r="1.95" fill="#00bfff"/><circle cx="471.2" cy="396.5" r="1.95" fill="#00bfff"/><circle cx="471.9" cy="421.3" r="1.95" fill="#00bfff"/><circle cx="472.6" cy="393.7" r="1.95" fill="#00bfff"/><circle cx="473.0" cy="413.4" r="1.95" fill="#00bfff"/><circle cx="473.1" cy="421.0" r="1.95" fill="#00bfff"/><circle cx="473.9" cy="385.5" r="1.95" fill="#00bfff"/><circle cx="474.1" cy="425.8" r="1.95" fill="#00bfff"/><circle cx="474.1" cy="416.2" r="1.95" fill="#00bfff"/><circle cx="474.5" cy="427.1" r="1.95" fill="#00bfff"/><circle cx="474.9" cy="416.6" r="1.95" fill="#00bfff"/><circle cx="475.1" cy="416.7" r="1.95" fill="#00bfff"/><circle cx="475.3" cy="391.0" r="1.95" fill="#00bfff"/><circle cx="475.8" cy="408.3" r="1.95" fill="#00bfff"/><circle cx="476.5" cy="422.9" r="1.95" fill="#00bfff"/><circle cx="476.6" cy="414.0" r="1.95" fill="#00bfff"/><circle cx="477.1" cy="402.4" r="1.95" fill="#00bfff"/><circle cx="477.7" cy="392.2" r="1.95" fill="#00bfff"/><circle cx="478.0" cy="413.0" r="1.95" fill="#00bfff"/><circle cx="478.0" cy="411.0" r="1.95" fill="#00bfff"/><circle cx="478.5" cy="390.0" r="1.95" fill="#00ffff"/><circle cx="478.5" cy="390.1" r="1.95" fill="#00ffff"/><circle cx="478.8" cy="390.9" r="1.95" fill="#00ffff"/><circle cx="479.0" cy="397.7" r="1.95" fill="#00ffff"/><circle cx="479.0" cy="404.8" r="1.95" fill="#00ffff"/><circle cx="480.3" cy="396.5" r="1.95" fill="#00ffff"/><circle cx="480.3" cy="386.4" r="1.95" fill="#00ffff"/><circle cx="480.4" cy="392.5" r="1.95" fill="#00ffff"/><circle cx="480.8" cy="391.4" r="1.95" fill="#00ffff"/><circle cx="480.9" cy="397.3" r="1.95" fill="#00ffff"/><circle cx="481.3" cy="408.3" r="1.95" fill="#00ffff"/><circle cx="482.0" cy="389.6" r="1.95" fill="#00ffff"/><circle cx="482.0" cy="395.1" r="1.95" fill="#00ffff"/><circle cx="482.3" cy="391.4" r="1.95" fill="#00ffff"/><circle cx="482.7" cy="398.6" r="1.95" fill="#00ffff"/><circle cx="483.1" cy="404.2" r="1.95" fill="#00ffff"/><circle cx="483.1" cy="385.5" r="1.95" fill="#00ffff"/><circle cx="483.6" cy="400.8" r="1.95" fill="#00ffff"/><circle cx="484.2" cy="404.3" r="1.95" fill="#00ffff"/><circle cx="484.4" cy="392.0" r="1.95" fill="#00ffff"/><circle cx="485.5" cy="392.1" r="1.95" fill="#00ffff"/><circle cx="485.8" cy="384.1" r="1.95" fill="#00ffff"/><circle cx="486.3" cy="389.6" r="1.95" fill="#00ffff"/><circle cx="487.2" cy="404.7" r="1.95" fill="#00ffff"/><circle cx="487.7" cy="410.2" r="1.95" fill="#00ffff"/><circle cx="488.2" cy="392.4" r="1.95" fill="#00ffff"/><circle cx="488.4" cy="414.1" r="1.95" fill="#00ffff"/><circle cx="488.6" cy="385.5" r="1.95" fill="#00ffff"/><circle cx="488.8" cy="409.0" r="1.95" fill="#00ffff"/><circle cx="489.1" cy="408.6" r="1.95" fill="#00ffff"/><circle cx="489.8" cy="448.8" r="1.95" fill="#00ffff"/><circle cx="489.8" cy="452.8" r="1.95" fill="#00ffff"/><circle cx="490.5" cy="391.6" r="1.95" fill="#00ffff"/><circle cx="490.9" cy="403.6" r="1.95" fill="#00ffff"/><circle cx="491.3" cy="388.7" r="1.95" fill="#00ffff"/><circle cx="491.4" cy="407.1" r="1.95" fill="#00ffff"/><circle cx="491.4" cy="407.6" r="1.95" fill="#00ffff"/><circle cx="491.6" cy="389.2" r="1.95" fill="#00ffff"/><circle cx="491.7" cy="389.9" r="1.95" fill="#00ffff"/><circle cx="491.7" cy="399.1" r="1.95" fill="#00ffff"/><circle cx="491.9" cy="404.6" r="1.95" fill="#00ffff"/><circle cx="492.0" cy="394.3" r="1.95" fill="#00ffff"/><circle cx="492.4" cy="389.8" r="1.95" fill="#00ffff"/><circle cx="492.4" cy="408.0" r="1.95" fill="#00ffff"/><circle cx="492.5" cy="383.7" r="1.95" fill="#00ffff"/><circle cx="492.8" cy="412.6" r="1.95" fill="#00ffff"/><circle cx="493.1" cy="386.9" r="1.95" fill="#00ffff"/><circle cx="493.1" cy="391.4" r="1.95" fill="#00ffff"/><circle cx="493.6" cy="413.6" r="1.95" fill="#00ffff"/><circle cx="493.6" cy="407.3" r="1.95" fill="#00ffff"/><circle cx="493.7" cy="383.6" r="1.95" fill="#00ffff"/><circle cx="494.2" cy="411.1" r="1.95" fill="#00ffff"/><circle cx="494.4" cy="408.0" r="1.95" fill="#00ffff"/><circle cx="494.5" cy="395.5" r="1.95" fill="#00ffff"/><circle cx="494.8" cy="388.1" r="1.95" fill="#00ffff"/><circle cx="495.0" cy="397.8" r="1.95" fill="#00ffff"/><circle cx="495.4" cy="413.8" r="1.95" fill="#00ffff"/><circle cx="495.4" cy="406.1" r="1.95" fill="#00ffff"/><circle cx="495.5" cy="397.9" r="1.95" fill="#00ffff"/><circle cx="495.6" cy="408.2" r="1.95" fill="#00ffff"/><circle cx="495.7" cy="404.7" r="1.95" fill="#00ffff"/><circle cx="496.0" cy="407.4" r="1.95" fill="#00ffff"/><circle cx="496.1" cy="413.9" r="1.95" fill="#00ffff"/><circle cx="496.2" cy="394.2" r="1.95" fill="#00ffff"/><circle cx="496.2" cy="396.8" r="1.95" fill="#00ffff"/><circle cx="496.3" cy="395.2" r="1.95" fill="#00ffff"/><circle cx="496.6" cy="398.1" r="1.95" fill="#00ffff"/><circle cx="498.5" cy="393.5" r="1.95" fill="#32cd32"/><circle cx="498.9" cy="385.6" r="1.95" fill="#32cd32"/><circle cx="498.9" cy="383.0" r="1.95" fill="#32cd32"/><circle cx="498.9" cy="400.2" r="1.95" fill="#32cd32"/><circle cx="499.2" cy="398.6" r="1.95" fill="#32cd32"/><circle cx="499.7" cy="391.8" r="1.95" fill="#32cd32"/><circle cx="501.0" cy="394.0" r="1.95" fill="#32cd32"/><circle cx="501.1" cy="388.1" r="1.95" fill="#32cd32"/><circle cx="501.2" cy="388.4" r="1.95" fill="#32cd32"/><circle cx="501.3" cy="390.8" r="1.95" fill="#32cd32"/><circle cx="502.5" cy="392.7" r="1.95" fill="#32cd32"/><circle cx="503.0" cy="393.3" r="1.95" fill="#32cd32"/><circle cx="503.1" cy="391.5" r="1.95" fill="#32cd32"/><circle cx="504.3" cy="400.4" r="1.95" fill="#32cd32"/><circle cx="504.5" cy="399.5" r="1.95" fill="#32cd32"/><circle cx="504.7" cy="386.3" r="1.95" fill="#32cd32"/><circle cx="504.9" cy="393.0" r="1.95" fill="#32cd32"/><circle cx="505.4" cy="400.8" r="1.95" fill="#32cd32"/><circle cx="505.8" cy="393.0" r="1.95" fill="#32cd32"/><circle cx="506.0" cy="396.0" r="1.95" fill="#32cd32"/><circle cx="506.2" cy="383.1" r="1.95" fill="#32cd32"/><circle cx="506.3" cy="400.7" r="1.95" fill="#32cd32"/><circle cx="506.8" cy="397.8" r="1.95" fill="#32cd32"/><circle cx="506.9" cy="397.3" r="1.95" fill="#32cd32"/><circle cx="507.3" cy="400.1" r="1.95" fill="#32cd32"/><circle cx="507.9" cy="392.4" r="1.95" fill="#32cd32"/><circle cx="509.9" cy="393.4" r="1.95" fill="#32cd32"/><circle cx="510.8" cy="392.5" r="1.95" fill="#32cd32"/><circle cx="511.8" cy="386.8" r="1.95" fill="#32cd32"/><circle cx="513.3" cy="398.2" r="1.95" fill="#32cd32"/><circle cx="513.4" cy="391.3" r="1.95" fill="#32cd32"/><circle cx="514.5" cy="395.2" r="1.95" fill="#32cd32"/><circle cx="514.7" cy="395.4" r="1.95" fill="#32cd32"/><circle cx="568.5" cy="405.4" r="1.95" fill="#ff8c00"/><circle cx="568.5" cy="410.9" r="1.95" fill="#ff8c00"/><circle cx="570.2" cy="409.5" r="1.95" fill="#ff8c00"/><circle cx="571.8" cy="403.6" r="1.95" fill="#ff4500"/><circle cx="574.3" cy="403.0" r="1.95" fill="#ff4500"/><circle cx="581.4" cy="393.7" r="1.95" fill="#ff4500"/><circle cx="581.4" cy="397.6" r="1.95" fill="#ff4500"/><circle cx="581.4" cy="401.9" r="1.95" fill="#ff4500"/><circle cx="581.4" cy="408.5" r="1.95" fill="#ff4500"/><circle cx="659.3" cy="390.3" r="1.95" fill="#483d8b"/><circle cx="660.3" cy="412.3" r="1.95" fill="#483d8b"/><circle cx="663.8" cy="401.4" r="1.95" fill="#0000ff"/><circle cx="664.5" cy="400.0" r="1.95" fill="#0000ff"/><circle cx="664.5" cy="406.2" r="1.95" fill="#0000ff"/><circle cx="664.5" cy="413.7" r="1.95" fill="#0000ff"/><circle cx="665.1" cy="424.7" r="1.95" fill="#0000ff"/><circle cx="665.8" cy="434.3" r="1.95" fill="#0000ff"/><circle cx="667.2" cy="416.5" r="1.95" fill="#0000ff"/><circle cx="667.2" cy="428.8" r="1.95" fill="#0000ff"/><circle cx="667.9" cy="410.3" r="1.95" fill="#0000ff"/><circle cx="667.9" cy="420.6" r="1.95" fill="#0000ff"/><circle cx="668.6" cy="436.3" r="1.95" fill="#0000ff"/><circle cx="668.6" cy="400.7" r="1.95" fill="#0000ff"/><circle cx="669.3" cy="432.2" r="1.95" fill="#0000ff"/><circle cx="675.4" cy="416.2" r="1.95" fill="#0000ff"/><circle cx="676.8" cy="419.2" r="1.95" fill="#0000ff"/><circle cx="680.0" cy="417.6" r="1.95" fill="#0000ff"/><circle cx="680.2" cy="401.4" r="1.95" fill="#0000ff"/><circle cx="680.2" cy="405.5" r="1.95" fill="#0000ff"/><circle cx="680.2" cy="410.3" r="1.95" fill="#0000ff"/><circle cx="680.9" cy="420.6" r="1.95" fill="#0000ff"/><circle cx="680.9" cy="425.4" r="1.95" fill="#0000ff"/><circle cx="690.5" cy="414.4" r="1.95" fill="#00bfff"/><circle cx="690.7" cy="417.0" r="1.95" fill="#00bfff"/><circle cx="691.2" cy="405.5" r="1.95" fill="#00bfff"/><circle cx="691.2" cy="417.8" r="1.95" fill="#00bfff"/><circle cx="691.4" cy="405.4" r="1.95" fill="#00bfff"/><circle cx="692.7" cy="416.3" r="1.95" fill="#00bfff"/><circle cx="693.3" cy="413.0" r="1.95" fill="#00bfff"/><circle cx="693.4" cy="412.9" r="1.95" fill="#00bfff"/><circle cx="693.4" cy="419.8" r="1.95" fill="#00bfff"/><circle cx="693.9" cy="419.2" r="1.95" fill="#00bfff"/><circle cx="694.1" cy="400.6" r="1.95" fill="#00bfff"/><circle cx="694.1" cy="423.9" r="1.95" fill="#00bfff"/><circle cx="694.6" cy="400.7" r="1.95" fill="#00bfff"/><circle cx="694.6" cy="423.3" r="1.95" fill="#00bfff"/><circle cx="696.0" cy="413.7" r="1.95" fill="#00bfff"/><circle cx="696.0" cy="427.4" r="1.95" fill="#00bfff"/><circle cx="696.9" cy="412.9" r="1.95" fill="#00bfff"/><circle cx="698.1" cy="426.1" r="1.95" fill="#00bfff"/><circle cx="698.2" cy="396.5" r="1.95" fill="#00bfff"/><circle cx="698.2" cy="425.9" r="1.95" fill="#00bfff"/><circle cx="698.7" cy="423.3" r="1.95" fill="#00bfff"/><circle cx="702.2" cy="408.9" r="1.95" fill="#00ffff"/><circle cx="702.2" cy="412.3" r="1.95" fill="#00ffff"/><circle cx="702.3" cy="412.2" r="1.95" fill="#00ffff"/><circle cx="703.0" cy="408.8" r="1.95" fill="#00ffff"/><circle cx="705.6" cy="406.9" r="1.95" fill="#00ffff"/><circle cx="705.8" cy="408.1" r="1.95" fill="#00ffff"/><circle cx="727.3" cy="389.6" r="1.95" fill="#32cd32"/><circle cx="727.3" cy="393.7" r="1.95" fill="#32cd32"/><circle cx="727.3" cy="397.8" r="1.95" fill="#32cd32"/><circle cx="733.6" cy="395.1" r="1.95" fill="#32cd32"/><circle cx="733.6" cy="399.2" r="1.95" fill="#32cd32"/><circle cx="738.7" cy="393.0" r="1.95" fill="#00ff00"/><circle cx="738.7" cy="396.5" r="1.95" fill="#00ff00"/><circle cx="739.4" cy="386.9" r="1.95" fill="#00ff00"/></g><polygon points="398.9,467.6 399.3,449.8 400.3,447.7 402.3,447.3 403.7,449.1 404.8,455.3 404.9,455.3 404.9,487.7 403.7,484.7 401.7,478.6 399.6,470.3 398.9,467.6" fill="#8b4513"/>
<polygon points="404.4,452.8 404.8,455.3 405.9,455.3 406.2,451.1 406.7,438.8 407.8,436.1 409.9,435.1 411.7,436.7 412.6,442.9 413.6,449.8 414.7,453.9 416.7,452.5 418.1,451.1 418.8,441.5 419.5,436.7 420.9,434.7 422.9,434.7 423.7,435.8 423.7,470.4 423.6,470.3 422.2,469.7 420.9,471.7 418.8,472.4 418.5,478.6 417.4,485.4 416.1,486.8 414.4,485.4 413.0,481.3 411.9,474.5 410.6,472.4 409.2,474.5 408.5,481.3 407.8,488.2 406.5,489.3 405.1,488.2 404.4,486.4" fill="#000000"/>
<polygon points="423.2,435.0 424.3,436.7 425.0,442.9 425.4,448.4 426.3,449.8 427.7,451.1 429.1,455.3 430.5,458.7 431.8,457.3 433.2,453.9 433.9,445.7 434.6,442.2 435.9,437.4 436.6,432.6 438.0,431.3 439.6,431.9 440.3,430.7 441.0,430.1 441.2,429.2 441.2,456.8 440.1,458.0 438.0,459.4 436.6,462.1 435.3,466.2 433.9,471.0 431.8,473.4 429.8,474.2 427.0,473.8 425.0,472.4 423.6,470.3 423.2,470.1" fill="#483d8b"/>
<polygon points="440.7,430.3 441.0,430.1 442.3,425.3 445.1,423.9 447.8,425.9 450.6,426.6 452.6,423.9 454.7,425.3 456.7,430.7 458.1,437.6 459.5,441.7 460.0,439.1 460.0,479.5 459.3,478.6 458.6,475.8 458.3,469.0 456.9,470.3 455.6,469.0 454.5,463.5 453.1,464.9 452.4,473.1 451.0,475.1 449.7,474.5 449.0,471.7 448.7,462.1 446.9,458.0 444.2,456.6 441.4,456.6 440.7,457.3" fill="#0000ff"/>
<polygon points="459.5,441.6 460.9,434.9 462.2,430.7 464.3,428.0 467.0,426.6 469.8,427.3 472.5,423.9 475.3,422.5 477.3,421.1 478.2,418.6 478.2,449.4 477.1,449.8 475.0,452.5 473.7,458.0 471.6,459.6 469.5,459.6 468.2,458.7 466.8,458.0 466.1,462.1 465.4,469.0 464.7,478.6 462.7,480.2 460.6,480.2 459.5,478.9" fill="#00bfff"/>
<polygon points="477.7,420.1 478.7,417.0 481.4,414.3 484.2,413.6 486.9,411.5 489.0,414.3 490.3,407.4 491.0,393.7 491.7,385.5 493.1,380.0 496.5,380.0 496.9,400.6 497.0,400.6 497.0,427.6 496.3,427.8 494.9,434.7 493.5,439.5 492.2,442.9 488.7,443.6 486.0,444.3 484.4,445.7 483.9,451.1 483.0,453.9 481.2,454.2 479.8,452.5 479.1,449.1 477.7,449.6" fill="#00ffff"/>
<polygon points="496.5,380.0 496.5,380.0 496.9,400.6 498.6,403.3 501.3,401.9 504.1,404.0 506.8,400.6 509.5,396.5 512.3,393.7 514.3,392.3 515.1,390.0 515.1,422.6 513.7,421.1 510.9,423.9 510.0,429.2 508.6,430.6 506.6,431.3 503.8,429.9 501.1,427.8 498.3,427.1 496.5,427.8" fill="#32cd32"/>
<polygon points="514.6,391.5 515.7,388.2 517.8,380.0 533.9,380.0 533.9,410.1 532.2,411.3 529.4,410.9 527.4,415.7 524.6,419.8 521.9,423.9 519.1,425.9 516.4,423.9 514.6,422.1" fill="#00ff00"/>
<polygon points="533.4,380.0 552.7,380.0 552.7,417.1 552.3,417.0 550.3,419.1 550.0,419.1 547.9,418.4 545.9,415.7 543.1,412.9 540.4,409.5 537.7,406.7 534.9,409.5 533.4,410.5" fill="#ffff00"/>
<polygon points="552.2,380.0 560.6,380.0 561.3,391.0 561.9,399.2 564.0,400.6 565.4,402.6 566.7,405.4 568.1,411.5 569.5,415.7 570.2,421.1 570.9,421.4 570.9,445.8 568.8,441.7 567.4,437.6 564.7,436.9 562.6,433.5 561.3,426.6 559.2,422.5 557.1,418.4 554.4,417.7 552.3,417.0 552.2,417.2" fill="#ff8c00"/>
<polygon points="570.4,421.2 572.2,421.8 575.0,421.8 577.0,423.9 578.4,421.1 579.1,412.9 580.5,410.2 582.5,410.9 583.9,412.2 585.9,410.9 587.7,411.8 588.7,421.1 589.6,424.0 589.6,459.0 589.1,459.3 587.3,456.8 585.9,449.9 584.6,441.7 583.2,436.2 581.4,433.5 580.5,437.6 579.1,444.5 577.3,449.9 575.4,452.0 572.9,449.9 570.9,445.8 570.4,444.8" fill="#ff4500"/>
<polygon points="589.1,422.5 590.1,425.3 591.4,417.0 592.4,414.3 594.2,413.6 595.5,415.7 596.5,419.8 598.3,421.1 599.2,426.6 600.3,432.1 601.4,440.3 602.8,444.5 604.2,437.6 605.6,435.5 607.2,435.5 607.8,436.7 607.8,464.1 607.2,463.7 605.8,459.5 604.5,464.3 602.8,466.1 601.0,465.0 599.7,460.9 598.3,452.7 596.9,445.8 595.5,443.1 593.8,444.5 592.1,451.3 591.0,458.2 589.1,459.2" fill="#ff0000"/>
<polygon points="607.3,435.7 608.3,437.6 609.0,444.5 609.7,437.6 610.6,433.5 612.4,432.4 614.7,432.8 615.7,436.2 616.3,445.8 617.1,452.7 618.9,454.1 620.2,451.3 620.9,437.6 622.0,435.1 623.9,434.9 625.7,436.2 626.6,441.2 626.6,465.6 626.1,463.8 624.0,461.7 622.6,460.3 621.3,465.8 619.2,468.3 617.1,468.6 615.8,465.8 614.4,461.7 612.3,464.5 610.3,465.8 608.2,464.5 607.3,463.7" fill="#8b4513"/>
<polygon points="626.1,438.3 626.7,441.7 627.8,451.3 629.1,456.8 630.5,451.3 632.2,441.7 633.3,434.9 634.4,430.7 636.0,429.4 637.6,430.1 638.7,433.5 639.0,439.0 640.8,438.7 642.9,439.0 644.5,441.0 645.4,442.6 645.4,464.1 644.6,461.7 642.8,464.5 641.8,474.1 640.5,477.1 638.4,476.8 636.8,472.7 635.7,467.2 634.3,469.9 632.6,474.7 630.9,476.1 628.8,474.1 627.4,468.6 626.1,463.9" fill="#000000"/>
<polygon points="644.9,441.7 645.6,443.1 646.3,434.9 647.2,428.7 649.0,427.3 650.8,428.0 651.9,436.2 653.3,446.5 654.7,436.2 655.5,425.3 656.3,421.1 657.9,419.8 660.0,419.1 660.3,419.9 662.0,421.3 662.3,423.7 662.3,452.7 660.3,450.7 658.3,454.9 656.2,463.1 654.9,468.6 652.8,469.3 651.4,465.8 650.1,464.5 648.0,466.9 645.9,465.8 644.9,462.6" fill="#483d8b"/>
<polygon points="661.8,421.1 662.0,421.3 662.8,427.4 663.1,439.8 664.5,438.4 666.5,437.0 668.6,438.4 669.9,445.3 671.3,447.3 672.7,443.9 674.1,427.4 674.7,421.9 676.1,421.3 677.5,422.6 678.2,431.5 679.5,435.7 680.9,432.9 681.1,432.9 681.1,460.6 679.5,461.0 676.8,462.4 674.7,463.1 673.4,468.6 672.0,475.4 670.2,476.8 668.6,474.7 667.2,468.6 666.1,460.3 664.5,454.9 662.4,452.8 661.8,452.2" fill="#0000ff"/>
<polygon points="680.6,433.5 680.9,432.9 683.0,432.2 685.0,432.9 687.8,432.2 689.8,430.9 691.9,431.8 694.6,432.9 697.4,434.3 699.3,433.7 699.3,456.6 698.5,456.2 697.6,463.1 696.0,465.6 693.9,465.1 691.9,463.1 690.5,460.3 689.1,464.5 687.8,468.3 685.7,468.6 683.9,465.1 682.3,460.3 680.6,460.8" fill="#00bfff"/>
<polygon points="698.8,433.8 699.4,433.6 700.3,432.1 701.7,425.3 702.3,410.2 703.7,406.7 705.8,406.7 706.7,408.8 707.1,426.6 709.2,427.3 710.3,421.1 710.8,411.5 711.9,407.4 712.6,401.9 714.0,400.6 715.8,401.9 716.7,407.4 717.2,399.2 718.0,398.5 718.0,435.9 716.6,435.7 715.2,437.0 714.1,443.9 712.5,447.3 710.4,448.0 708.3,446.6 706.3,445.9 704.2,446.6 703.1,453.5 702.2,457.6 700.1,456.9 698.8,456.4" fill="#00ffff"/>
<polygon points="717.5,398.9 718.8,397.8 720.9,397.6 722.9,398.5 723.6,407.4 724.3,412.9 725.4,401.9 725.9,389.6 727.3,387.5 729.1,388.9 729.5,400.6 730.0,412.9 731.1,407.4 731.8,395.1 733.6,393.7 735.3,395.1 735.9,402.6 736.2,401.8 736.2,425.9 734.6,425.9 733.2,429.4 731.8,432.8 730.5,434.9 728.4,434.2 726.3,432.1 724.3,432.8 721.5,434.2 720.0,435.0 718.6,435.9 717.5,435.8" fill="#32cd32"/>
<polygon points="735.7,400.2 735.9,402.6 736.6,400.6 738.0,395.1 739.4,388.2 741.4,385.5 743.5,380.0 755.0,380.0 755.0,408.9 754.5,408.8 751.7,410.2 749.0,412.9 746.2,415.7 744.2,418.4 742.1,421.1 740.1,424.6 737.3,425.9 735.7,425.9" fill="#00ff00"/>
<polygon points="754.5,380.0 764.1,380.0 764.7,393.7 766.1,403.3 767.5,409.5 768.9,407.4 770.2,396.5 771.2,388.2 772.0,380.0 772.0,380.0 773.8,380.0 773.8,413.8 773.0,417.0 771.6,421.1 769.5,422.5 768.4,427.3 766.5,428.7 764.7,426.6 764.1,421.1 762.0,419.8 760.6,415.7 759.3,411.5 757.2,409.5 754.5,408.8" fill="#ffff00"/>
<polygon points="773.3,380.0 782.6,380.0 783.2,384.1 783.7,401.9 787.0,402.6 787.6,410.9 788.9,410.9 789.5,400.6 791.1,399.9 792.0,401.0 792.0,421.2 791.5,420.5 789.4,421.1 789.0,432.1 788.5,439.7 786.7,441.0 784.6,439.7 783.9,434.9 783.3,426.6 782.6,419.8 780.8,415.7 779.1,414.3 777.1,412.2 774.3,411.5 773.3,415.8" fill="#ff8c00"/>
<polygon points="791.5,400.3 793.2,402.6 795.9,403.3 797.3,404.7 798.0,414.3 799.1,419.1 801.4,419.8 802.4,423.9 803.8,427.3 805.5,428.0 807.6,426.6 809.7,425.9 810.3,422.5 810.7,421.9 810.7,443.6 810.0,443.1 808.6,444.5 806.6,445.8 805.2,447.9 803.6,449.9 801.8,449.3 800.4,445.8 799.0,440.3 797.0,436.2 794.9,430.7 793.5,423.9 791.5,420.5 791.5,420.5" fill="#ff4500"/>
<polygon points="810.2,423.1 810.3,422.5 811.4,420.9 813.1,420.5 814.5,421.8 815.6,426.6 816.5,434.9 817.2,441.7 818.6,445.8 820.6,447.2 822.7,446.9 824.1,444.5 824.7,443.1 826.1,443.4 827.5,445.8 827.9,454.1 827.9,456.8 827.6,456.8 827.1,456.1 826.1,458.2 824.7,462.0 822.7,463.2 820.6,462.3 819.3,459.5 817.2,458.9 815.1,455.4 813.4,451.3 812.4,444.5 811.0,443.8 810.2,443.2" fill="#ff0000"/>
<polygon points="398.9,467.6 399.3,449.8 400.3,447.7 402.3,447.3 403.7,449.1 404.8,455.3 405.9,455.3 406.2,451.1 406.7,438.8 407.8,436.1 409.9,435.1 411.7,436.7 412.6,442.9 413.6,449.8 414.7,453.9 416.7,452.5 418.1,451.1 418.8,441.5 419.5,436.7 420.9,434.7 422.9,434.7 424.3,436.7 425.0,442.9 425.4,448.4 426.3,449.8 427.7,451.1 429.1,455.3 430.5,458.7 431.8,457.3 433.2,453.9 433.9,445.7 434.6,442.2 435.9,437.4 436.6,432.6 438.0,431.3 439.6,431.9 440.3,430.7 441.0,430.1 442.3,425.3 445.1,423.9 447.8,425.9 450.6,426.6 452.6,423.9 454.7,425.3 456.7,430.7 458.1,437.6 459.5,441.7 460.9,434.9 462.2,430.7 464.3,428.0 467.0,426.6 469.8,427.3 472.5,423.9 475.3,422.5 477.3,421.1 478.7,417.0 481.4,414.3 484.2,413.6 486.9,411.5 489.0,414.3 490.3,407.4 491.0,393.7 491.7,385.5 493.1,380.0 496.5,380.0 496.9,400.6 498.6,403.3 501.3,401.9 504.1,404.0 506.8,400.6 509.5,396.5 512.3,393.7 514.3,392.3 515.7,388.2 517.8,380.0 560.6,380.0 561.3,391.0 561.9,399.2 564.0,400.6 565.4,402.6 566.7,405.4 568.1,411.5 569.5,415.7 570.2,421.1 572.2,421.8 575.0,421.8 577.0,423.9 578.4,421.1 579.1,412.9 580.5,410.2 582.5,410.9 583.9,412.2 585.9,410.9 587.7,411.8 588.7,421.1 590.1,425.3 591.4,417.0 592.4,414.3 594.2,413.6 595.5,415.7 596.5,419.8 598.3,421.1 599.2,426.6 600.3,432.1 601.4,440.3 602.8,444.5 604.2,437.6 605.6,435.5 607.2,435.5 608.3,437.6 609.0,444.5 609.7,437.6 610.6,433.5 612.4,432.4 614.7,432.8 615.7,436.2 616.3,445.8 617.1,452.7 618.9,454.1 620.2,451.3 620.9,437.6 622.0,435.1 623.9,434.9 625.7,436.2 626.7,441.7 627.8,451.3 629.1,456.8 630.5,451.3 632.2,441.7 633.3,434.9 634.4,430.7 636.0,429.4 637.6,430.1 638.7,433.5 639.0,439.0 640.8,438.7 642.9,439.0 644.5,441.0 645.6,443.1 646.3,434.9 647.2,428.7 649.0,427.3 650.8,428.0 651.9,436.2 653.3,446.5 654.7,436.2 655.5,425.3 656.3,421.1 657.9,419.8 660.0,419.1 660.3,419.9 662.0,421.3 662.8,427.4 663.1,439.8 664.5,438.4 666.5,437.0 668.6,438.4 669.9,445.3 671.3,447.3 672.7,443.9 674.1,427.4 674.7,421.9 676.1,421.3 677.5,422.6 678.2,431.5 679.5,435.7 680.9,432.9 683.0,432.2 685.0,432.9 687.8,432.2 689.8,430.9 691.9,431.8 694.6,432.9 697.4,434.3 699.4,433.6 700.3,432.1 701.7,425.3 702.3,410.2 703.7,406.7 705.8,406.7 706.7,408.8 707.1,426.6 709.2,427.3 710.3,421.1 710.8,411.5 711.9,407.4 712.6,401.9 714.0,400.6 715.8,401.9 716.7,407.4 717.2,399.2 718.8,397.8 720.9,397.6 722.9,398.5 723.6,407.4 724.3,412.9 725.4,401.9 725.9,389.6 727.3,387.5 729.1,388.9 729.5,400.6 730.0,412.9 731.1,407.4 731.8,395.1 733.6,393.7 735.3,395.1 735.9,402.6 736.6,400.6 738.0,395.1 739.4,388.2 741.4,385.5 743.5,380.0 764.1,380.0 764.7,393.7 766.1,403.3 767.5,409.5 768.9,407.4 770.2,396.5 771.2,388.2 772.0,380.0 772.0,380.0 782.6,380.0 783.2,384.1 783.7,401.9 787.0,402.6 787.6,410.9 788.9,410.9 789.5,400.6 791.1,399.9 793.2,402.6 795.9,403.3 797.3,404.7 798.0,414.3 799.1,419.1 801.4,419.8 802.4,423.9 803.8,427.3 805.5,428.0 807.6,426.6 809.7,425.9 810.3,422.5 811.4,420.9 813.1,420.5 814.5,421.8 815.6,426.6 816.5,434.9 817.2,441.7 818.6,445.8 820.6,447.2 822.7,446.9 824.1,444.5 824.7,443.1 826.1,443.4 827.5,445.8 827.9,454.1 827.9,456.8 827.6,456.8 827.1,456.1 826.1,458.2 824.7,462.0 822.7,463.2 820.6,462.3 819.3,459.5 817.2,458.9 815.1,455.4 813.4,451.3 812.4,444.5 811.0,443.8 810.0,443.1 808.6,444.5 806.6,445.8 805.2,447.9 803.6,449.9 801.8,449.3 800.4,445.8 799.0,440.3 797.0,436.2 794.9,430.7 793.5,423.9 791.5,420.5 789.4,421.1 789.0,432.1 788.5,439.7 786.7,441.0 784.6,439.7 783.9,434.9 783.3,426.6 782.6,419.8 780.8,415.7 779.1,414.3 777.1,412.2 774.3,411.5 773.0,417.0 771.6,421.1 769.5,422.5 768.4,427.3 766.5,428.7 764.7,426.6 764.1,421.1 762.0,419.8 760.6,415.7 759.3,411.5 757.2,409.5 754.5,408.8 751.7,410.2 749.0,412.9 746.2,415.7 744.2,418.4 742.1,421.1 740.1,424.6 737.3,425.9 734.6,425.9 733.2,429.4 731.8,432.8 730.5,434.9 728.4,434.2 726.3,432.1 724.3,432.8 721.5,434.2 720.0,435.0 718.6,435.9 716.6,435.7 715.2,437.0 714.1,443.9 712.5,447.3 710.4,448.0 708.3,446.6 706.3,445.9 704.2,446.6 703.1,453.5 702.2,457.6 700.1,456.9 698.5,456.2 697.6,463.1 696.0,465.6 693.9,465.1 691.9,463.1 690.5,460.3 689.1,464.5 687.8,468.3 685.7,468.6 683.9,465.1 682.3,460.3 679.5,461.0 676.8,462.4 674.7,463.1 673.4,468.6 672.0,475.4 670.2,476.8 668.6,474.7 667.2,468.6 666.1,460.3 664.5,454.9 662.4,452.8 660.3,450.7 658.3,454.9 656.2,463.1 654.9,468.6 652.8,469.3 651.4,465.8 650.1,464.5 648.0,466.9 645.9,465.8 644.6,461.7 642.8,464.5 641.8,474.1 640.5,477.1 638.4,476.8 636.8,472.7 635.7,467.2 634.3,469.9 632.6,474.7 630.9,476.1 628.8,474.1 627.4,468.6 626.1,463.8 624.0,461.7 622.6,460.3 621.3,465.8 619.2,468.3 617.1,468.6 615.8,465.8 614.4,461.7 612.3,464.5 610.3,465.8 608.2,464.5 607.2,463.7 605.8,459.5 604.5,464.3 602.8,466.1 601.0,465.0 599.7,460.9 598.3,452.7 596.9,445.8 595.5,443.1 593.8,444.5 592.1,451.3 591.0,458.2 589.1,459.3 587.3,456.8 585.9,449.9 584.6,441.7 583.2,436.2 581.4,433.5 580.5,437.6 579.1,444.5 577.3,449.9 575.4,452.0 572.9,449.9 570.9,445.8 568.8,441.7 567.4,437.6 564.7,436.9 562.6,433.5 561.3,426.6 559.2,422.5 557.1,418.4 554.4,417.7 552.3,417.0 550.3,419.1 550.0,419.1 547.9,418.4 545.9,415.7 543.1,412.9 540.4,409.5 537.7,406.7 534.9,409.5 532.2,411.3 529.4,410.9 527.4,415.7 524.6,419.8 521.9,423.9 519.1,425.9 516.4,423.9 513.7,421.1 510.9,423.9 510.0,429.2 508.6,430.6 506.6,431.3 503.8,429.9 501.1,427.8 498.3,427.1 496.3,427.8 494.9,434.7 493.5,439.5 492.2,442.9 488.7,443.6 486.0,444.3 484.4,445.7 483.9,451.1 483.0,453.9 481.2,454.2 479.8,452.5 479.1,449.1 477.1,449.8 475.0,452.5 473.7,458.0 471.6,459.6 469.5,459.6 468.2,458.7 466.8,458.0 466.1,462.1 465.4,469.0 464.7,478.6 462.7,480.2 460.6,480.2 459.3,478.6 458.6,475.8 458.3,469.0 456.9,470.3 455.6,469.0 454.5,463.5 453.1,464.9 452.4,473.1 451.0,475.1 449.7,474.5 449.0,471.7 448.7,462.1 446.9,458.0 444.2,456.6 441.4,456.6 440.1,458.0 438.0,459.4 436.6,462.1 435.3,466.2 433.9,471.0 431.8,473.4 429.8,474.2 427.0,473.8 425.0,472.4 423.6,470.3 422.2,469.7 420.9,471.7 418.8,472.4 418.5,478.6 417.4,485.4 416.1,486.8 414.4,485.4 413.0,481.3 411.9,474.5 410.6,472.4 409.2,474.5 408.5,481.3 407.8,488.2 406.5,489.3 405.1,488.2 403.7,484.7 401.7,478.6 399.6,470.3 398.9,467.6" fill="none" stroke="#000" stroke-width="1.3" stroke-linejoin="round"/>
<polyline points="665.4,457.4 665.7,449.4" fill="none" stroke="#000" stroke-width="0.8" stroke-linecap="round"/>
<polyline points="715.2,402.0 714.6,418.4" fill="none" stroke="#000" stroke-width="0.8" stroke-linecap="round"/>
<polyline points="801.9,422.2 802.4,432.6" fill="none" stroke="#000" stroke-width="0.8" stroke-linecap="round"/>
<polyline points="599.8,460.9 599.9,452.7" fill="none" stroke="#000" stroke-width="0.8" stroke-linecap="round"/>
<polyline points="405.6,488.1 405.3,479.7" fill="none" stroke="#000" stroke-width="0.8" stroke-linecap="round"/>
<polyline points="726.2,389.7 726.6,399.8" fill="none" stroke="#000" stroke-width="0.8" stroke-linecap="round"/>
<polyline points="663.0,452.9 662.4,449.6" fill="none" stroke="#000" stroke-width="0.8" stroke-linecap="round"/>
<polyline points="489.2,443.0 489.8,435.4" fill="none" stroke="#000" stroke-width="0.8" stroke-linecap="round"/>
<polyline points="523.2,421.3 523.3,401.4" fill="none" stroke="#000" stroke-width="0.8" stroke-linecap="round"/>
<polyline points="487.2,443.5 487.5,428.5" fill="none" stroke="#000" stroke-width="0.8" stroke-linecap="round"/>
<polyline points="780.7,380.5 780.6,390.3" fill="none" stroke="#000" stroke-width="0.8" stroke-linecap="round"/>
<polyline points="462.1,479.7 461.8,469.5" fill="none" stroke="#000" stroke-width="0.8" stroke-linecap="round"/>
<polyline points="401.4,448.0 401.2,459.7" fill="none" stroke="#000" stroke-width="0.8" stroke-linecap="round"/>
<polyline points="748.7,380.5 748.5,391.4" fill="none" stroke="#000" stroke-width="0.8" stroke-linecap="round"/>
<polyline points="700.2,432.8 700.8,437.6" fill="none" stroke="#000" stroke-width="0.8" stroke-linecap="round"/>
<polyline points="719.4,434.9 718.8,418.3" fill="none" stroke="#000" stroke-width="0.8" stroke-linecap="round"/>
<polyline points="556.0,380.5 555.4,394.2" fill="none" stroke="#000" stroke-width="0.8" stroke-linecap="round"/>
<polyline points="477.1,449.3 476.7,435.9" fill="none" stroke="#000" stroke-width="0.8" stroke-linecap="round"/>
<polyline points="796.0,403.9 795.8,418.0" fill="none" stroke="#000" stroke-width="0.8" stroke-linecap="round"/>
<polyline points="623.5,460.7 623.1,449.8" fill="none" stroke="#000" stroke-width="0.8" stroke-linecap="round"/>
<polyline points="739.6,424.3 739.1,407.9" fill="none" stroke="#000" stroke-width="0.8" stroke-linecap="round"/>
<polyline points="438.8,458.3 439.0,450.6" fill="none" stroke="#000" stroke-width="0.8" stroke-linecap="round"/>
<polyline points="544.8,380.5 544.9,396.5" fill="none" stroke="#000" stroke-width="0.8" stroke-linecap="round"/>
<polyline points="535.0,380.5 534.5,387.5" fill="none" stroke="#000" stroke-width="0.8" stroke-linecap="round"/>
<polyline points="693.6,433.0 693.2,448.6" fill="none" stroke="#000" stroke-width="0.8" stroke-linecap="round"/>
<polyline points="820.3,447.5 820.2,452.3" fill="none" stroke="#000" stroke-width="0.8" stroke-linecap="round"/>
<polyline points="653.0,445.1 653.0,455.6" fill="none" stroke="#000" stroke-width="0.8" stroke-linecap="round"/>
<polyline points="423.7,436.4 423.2,452.4" fill="none" stroke="#000" stroke-width="0.8" stroke-linecap="round"/>
<polyline points="757.2,409.0 757.4,402.4" fill="none" stroke="#000" stroke-width="0.8" stroke-linecap="round"/>
<polyline points="668.6,438.9 668.1,454.2" fill="none" stroke="#000" stroke-width="0.8" stroke-linecap="round"/>
<polyline points="463.6,429.4 463.3,451.9" fill="none" stroke="#000" stroke-width="0.8" stroke-linecap="round"/>
<polyline points="825.7,443.8 826.3,450.6" fill="none" stroke="#000" stroke-width="0.8" stroke-linecap="round"/>
<polyline points="608.0,437.5 607.9,448.4" fill="none" stroke="#000" stroke-width="0.8" stroke-linecap="round"/>
<polyline points="572.0,447.6 571.9,441.7" fill="none" stroke="#000" stroke-width="0.8" stroke-linecap="round"/>
<polyline points="808.9,426.7 808.9,433.2" fill="none" stroke="#000" stroke-width="0.8" stroke-linecap="round"/>
<polyline points="438.0,458.9 438.3,451.5" fill="none" stroke="#000" stroke-width="0.8" stroke-linecap="round"/>
<polyline points="553.9,417.1 554.3,401.2" fill="none" stroke="#000" stroke-width="0.8" stroke-linecap="round"/>
<polyline points="682.9,461.6 682.7,449.3" fill="none" stroke="#000" stroke-width="0.8" stroke-linecap="round"/><g stroke="#000" stroke-width="0.7"><circle cx="785.4" cy="387.5" r="1.95" fill="#ff8c00"/><circle cx="785.4" cy="393.0" r="1.95" fill="#ff8c00"/><circle cx="785.4" cy="398.5" r="1.95" fill="#ff8c00"/><circle cx="790.5" cy="388.2" r="1.95" fill="#ff8c00"/><circle cx="790.5" cy="393.7" r="1.95" fill="#ff8c00"/><circle cx="793.9" cy="386.2" r="1.95" fill="#ff4500"/><circle cx="793.9" cy="389.6" r="1.95" fill="#ff4500"/><circle cx="795.0" cy="394.4" r="1.95" fill="#ff4500"/><circle cx="791.8" cy="397.8" r="1.95" fill="#ff8c00"/><circle cx="794.6" cy="401.3" r="1.95" fill="#ff4500"/></g></g>
<path d="M196.5 617.5v4.9M417.5 617.5v4.9M639.5 617.5v4.9M860.5 617.5v4.9M86.5 384.5h-4.9M86.5 423.3333333333333h-4.9M86.5 462.1666666666667h-4.9M86.5 501.0h-4.9M86.5 539.8333333333334h-4.9M86.5 578.6666666666667h-4.9M86.5 617.5h-4.9" stroke="#000" stroke-width="1.1" fill="none"/>
<rect x="86.5" y="384.5" width="775.0" height="233.0" fill="none" stroke="#000" stroke-width="1.1"/>
<text x="76.6" y="390.6" text-anchor="end" font-size="16.67">20</text>
<text x="76.6" y="429.4" text-anchor="end" font-size="16.67">10</text>
<text x="76.6" y="468.3" text-anchor="end" font-size="16.67">0</text>
<text x="76.6" y="507.1" text-anchor="end" font-size="16.67">−10</text>
<text x="76.6" y="545.9" text-anchor="end" font-size="16.67">−20</text>
<text x="76.6" y="584.8" text-anchor="end" font-size="16.67">−30</text>
<text x="76.6" y="623.6" text-anchor="end" font-size="16.67">−40</text>
<text transform="translate(203.4 630.4) rotate(-85)" text-anchor="end" font-size="13.89" letter-spacing="-0.28">01/22/23</text>
<text transform="translate(424.4 630.4) rotate(-85)" text-anchor="end" font-size="13.89" letter-spacing="-0.28">01/22/24</text>
<text transform="translate(646.4 630.4) rotate(-85)" text-anchor="end" font-size="13.89" letter-spacing="-0.28">01/22/25</text>
<text transform="translate(866.1 630.4) rotate(-85)" text-anchor="end" font-size="13.89" letter-spacing="-0.28">01/22/26</text>
<text transform="translate(30.2 501.0) rotate(-90)" text-anchor="middle" font-size="16.67">Surface Temperature</text>
<text x="472.7" y="375.0" text-anchor="middle" font-size="20.1">Surface Temperature 300234062036040  09/19/2022 to 11/26/2025</text>
</svg>
</body></html>
